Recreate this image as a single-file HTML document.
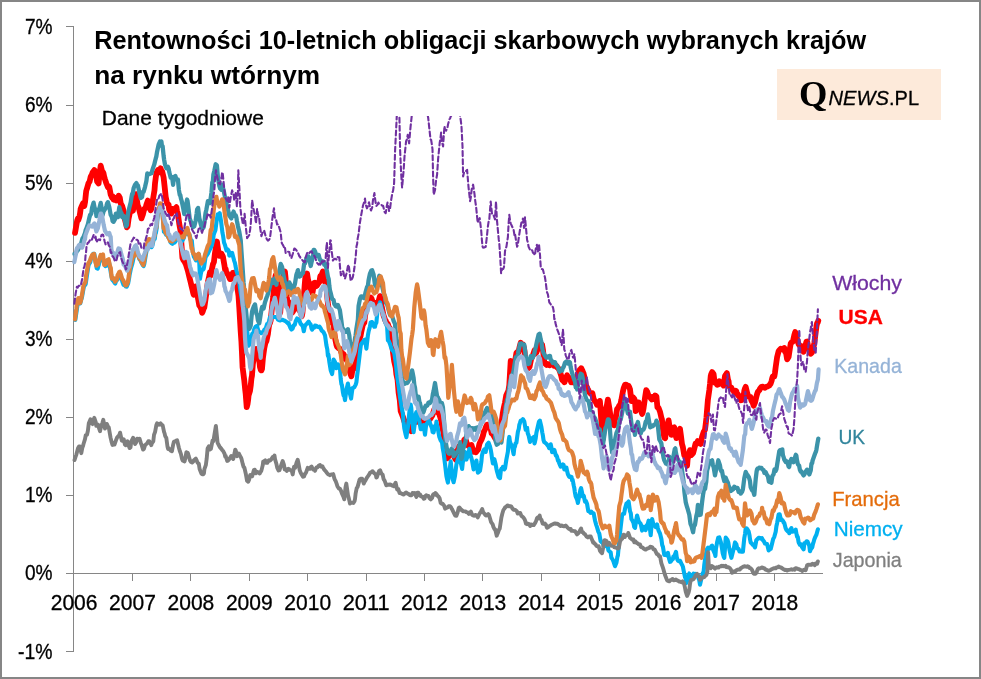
<!DOCTYPE html>
<html lang="pl"><head><meta charset="utf-8"><title>Rentowności 10-letnich obligacji skarbowych</title>
<style>
html,body{margin:0;padding:0;background:#fff;}
body{width:981px;height:679px;overflow:hidden;}
svg{display:block;font-family:"Liberation Sans",sans-serif;}
.ax{stroke:#868686;stroke-width:1;fill:none;shape-rendering:crispEdges;}
.lbl{font-size:21.6px;fill:#000;stroke:#000;stroke-width:0.3px;}
.ser{fill:none;stroke-linejoin:round;stroke-linecap:round;}
</style></head><body>
<svg width="981" height="679" viewBox="0 0 981 679">
<rect x="0" y="0" width="981" height="679" fill="#fff"/>
<rect x="1" y="1" width="979" height="677" fill="none" stroke="#868686" stroke-width="2"/>
<defs><clipPath id="plot"><rect x="60" y="116" width="800" height="560"/></clipPath></defs>
<path class="ax" d="M73.5 26V651.5 M66 651.5H74 M66 573.5H74 M66 495.5H74 M66 417.5H74 M66 339.5H74 M66 261.5H74 M66 183.5H74 M66 105.5H74 M66 26.5H74 M66 573.5H822.5 M132.5 573V581 M190.5 573V581 M249.5 573V581 M307.5 573V581 M366.5 573V581 M424.5 573V581 M482.5 573V581 M541.5 573V581 M599.5 573V581 M658.5 573V581 M716.5 573V581 M774.5 573V581"/>
<text class="lbl" x="18.1" y="658.5" textLength="34.5" lengthAdjust="spacingAndGlyphs">-1%</text>
<text class="lbl" x="25.0" y="580.4" textLength="27.6" lengthAdjust="spacingAndGlyphs">0%</text>
<text class="lbl" x="25.0" y="502.3" textLength="27.6" lengthAdjust="spacingAndGlyphs">1%</text>
<text class="lbl" x="25.0" y="424.2" textLength="27.6" lengthAdjust="spacingAndGlyphs">2%</text>
<text class="lbl" x="25.0" y="346.2" textLength="27.6" lengthAdjust="spacingAndGlyphs">3%</text>
<text class="lbl" x="25.0" y="268.1" textLength="27.6" lengthAdjust="spacingAndGlyphs">4%</text>
<text class="lbl" x="25.0" y="190.0" textLength="27.6" lengthAdjust="spacingAndGlyphs">5%</text>
<text class="lbl" x="25.0" y="111.9" textLength="27.6" lengthAdjust="spacingAndGlyphs">6%</text>
<text class="lbl" x="25.0" y="33.8" textLength="27.6" lengthAdjust="spacingAndGlyphs">7%</text>
<text class="lbl" x="74.1" y="609.5" text-anchor="middle" textLength="46.8" lengthAdjust="spacingAndGlyphs">2006</text>
<text class="lbl" x="132.5" y="609.5" text-anchor="middle" textLength="46.8" lengthAdjust="spacingAndGlyphs">2007</text>
<text class="lbl" x="190.9" y="609.5" text-anchor="middle" textLength="46.8" lengthAdjust="spacingAndGlyphs">2008</text>
<text class="lbl" x="249.3" y="609.5" text-anchor="middle" textLength="46.8" lengthAdjust="spacingAndGlyphs">2009</text>
<text class="lbl" x="307.7" y="609.5" text-anchor="middle" textLength="46.8" lengthAdjust="spacingAndGlyphs">2010</text>
<text class="lbl" x="366.1" y="609.5" text-anchor="middle" textLength="46.8" lengthAdjust="spacingAndGlyphs">2011</text>
<text class="lbl" x="424.5" y="609.5" text-anchor="middle" textLength="46.8" lengthAdjust="spacingAndGlyphs">2012</text>
<text class="lbl" x="482.9" y="609.5" text-anchor="middle" textLength="46.8" lengthAdjust="spacingAndGlyphs">2013</text>
<text class="lbl" x="541.3" y="609.5" text-anchor="middle" textLength="46.8" lengthAdjust="spacingAndGlyphs">2014</text>
<text class="lbl" x="599.7" y="609.5" text-anchor="middle" textLength="46.8" lengthAdjust="spacingAndGlyphs">2015</text>
<text class="lbl" x="658.1" y="609.5" text-anchor="middle" textLength="46.8" lengthAdjust="spacingAndGlyphs">2016</text>
<text class="lbl" x="716.5" y="609.5" text-anchor="middle" textLength="46.8" lengthAdjust="spacingAndGlyphs">2017</text>
<text class="lbl" x="774.9" y="609.5" text-anchor="middle" textLength="46.8" lengthAdjust="spacingAndGlyphs">2018</text>
<g clip-path="url(#plot)">
<path class="ser" d="M75.0 232.9 L76.4 225.1 L77.2 220.4 L77.9 218.5 L78.4 219.9 L79.5 216.4 L80.0 213.8 L80.6 209.1 L81.4 206.9 L83.1 203.2 L84.3 206.0 L85.1 201.8 L85.7 195.8 L86.2 191.0 L87.1 188.1 L88.6 182.9 L89.6 181.6 L90.7 176.7 L91.8 174.8 L92.6 172.4 L94.3 170.1 L95.2 171.5 L95.7 174.4 L96.3 176.8 L97.1 181.4 L98.6 183.4 L99.6 173.3 L100.7 165.7 L102.1 171.2 L103.0 172.2 L103.6 173.7 L104.1 176.3 L105.0 179.4 L106.4 183.5 L107.9 187.2 L108.6 186.3 L109.3 187.0 L110.7 194.6 L112.1 197.7 L113.1 196.7 L113.6 199.7 L114.2 199.8 L115.0 197.7 L116.4 200.4 L117.9 198.0 L118.7 195.8 L119.3 196.8 L119.8 197.7 L120.7 203.3 L122.1 205.8 L123.6 211.0 L124.3 214.4 L125.0 219.9 L126.9 227.4 L127.6 226.2 L128.6 218.7 L130.0 212.2 L131.4 208.7 L132.1 209.7 L132.9 210.6 L134.3 203.1 L135.5 195.8 L136.0 194.1 L136.6 199.6 L137.1 201.3 L137.7 205.4 L138.6 207.2 L140.0 212.9 L141.4 218.4 L142.2 216.2 L142.9 214.4 L144.3 208.9 L145.6 208.0 L146.4 204.7 L147.9 200.6 L149.3 205.3 L150.0 208.2 L150.7 210.3 L151.2 208.9 L152.1 204.9 L153.6 195.6 L154.5 190.3 L155.0 183.5 L155.6 178.9 L156.4 172.9 L157.9 170.1 L159.3 172.4 L160.1 172.1 L160.7 168.3 L161.2 170.7 L162.1 171.2 L163.6 177.4 L164.6 186.4 L165.7 196.9 L167.1 203.5 L168.0 204.3 L168.6 204.6 L169.1 209.5 L170.0 211.3 L171.4 213.5 L172.4 208.9 L172.9 211.1 L173.6 210.4 L175.0 209.6 L175.8 207.8 L176.4 207.2 L176.9 210.5 L177.9 214.0 L179.3 224.1 L180.7 231.6 L181.4 243.6 L182.4 257.9 L183.6 260.4 L184.6 261.8 L185.9 264.4 L187.0 268.0 L187.9 270.9 L189.2 276.4 L190.7 282.4 L191.5 285.9 L192.6 290.4 L193.1 292.7 L193.7 294.7 L194.8 290.4 L195.7 286.4 L197.1 295.0 L197.9 297.8 L199.3 305.5 L200.0 306.1 L201.6 309.7 L202.1 312.8 L202.7 311.7 L203.8 308.2 L204.3 307.6 L204.9 303.6 L206.4 293.2 L207.2 286.6 L207.9 281.9 L209.4 275.4 L209.9 272.4 L210.7 275.4 L211.6 270.6 L212.9 264.3 L213.9 262.1 L215.0 252.9 L216.1 246.1 L216.9 241.5 L218.3 250.9 L219.7 255.9 L220.6 255.3 L221.4 253.6 L222.9 256.6 L224.3 264.4 L225.1 269.9 L225.7 269.1 L226.2 272.3 L227.1 273.3 L228.6 275.8 L230.0 279.1 L230.7 279.2 L231.4 276.6 L232.9 272.9 L233.6 272.7 L235.0 277.4 L236.4 281.9 L237.4 288.7 L237.9 291.6 L238.5 295.8 L239.3 307.9 L240.7 331.6 L241.4 341.4 L241.9 351.5 L242.6 367.5 L244.3 380.7 L245.2 389.8 L245.7 394.0 L246.7 407.1 L247.5 404.3 L248.1 400.1 L248.6 395.3 L250.0 390.8 L250.8 385.0 L251.4 378.7 L252.0 375.4 L252.9 363.6 L254.2 357.1 L255.0 352.0 L256.4 348.9 L257.6 352.0 L258.6 354.0 L260.0 367.2 L260.9 370.3 L261.4 370.4 L262.0 368.9 L262.9 358.2 L264.3 348.1 L265.4 343.0 L266.4 341.2 L267.9 334.1 L268.8 326.9 L269.3 324.3 L269.9 323.3 L270.7 320.4 L272.1 306.5 L273.2 296.9 L274.4 282.8 L275.6 275.4 L276.7 276.8 L277.9 289.6 L279.1 302.7 L280.2 312.8 L281.4 296.4 L282.6 284.7 L283.7 274.9 L284.4 273.1 L284.9 271.5 L285.6 278.4 L286.1 291.0 L286.7 296.4 L287.8 303.1 L288.9 302.4 L289.6 303.9 L291.3 310.1 L292.3 312.5 L293.1 311.3 L294.8 306.1 L295.6 304.1 L296.6 300.6 L298.3 307.4 L299.0 310.0 L300.1 311.0 L301.2 313.1 L301.8 316.3 L302.4 313.3 L303.6 299.2 L304.6 286.1 L305.3 277.8 L307.1 273.6 L308.0 279.4 L308.9 283.0 L310.6 290.1 L311.3 289.6 L312.4 293.2 L313.6 286.3 L314.1 282.9 L314.7 282.7 L315.9 286.2 L316.9 285.6 L317.6 284.3 L319.4 281.9 L320.3 276.2 L321.1 276.3 L322.9 271.4 L323.6 278.2 L324.6 280.9 L325.9 284.3 L326.4 286.0 L327.0 294.6 L328.1 305.2 L329.2 311.6 L329.9 315.0 L330.4 317.8 L331.6 322.5 L332.6 320.5 L333.4 319.6 L334.3 332.3 L334.8 336.8 L336.4 344.7 L337.1 346.7 L338.2 347.9 L339.3 348.7 L340.0 348.8 L341.6 352.9 L342.7 354.9 L343.6 354.1 L344.9 358.7 L345.7 357.0 L347.2 360.7 L347.9 363.0 L349.4 369.7 L350.0 372.0 L350.5 374.1 L351.4 376.3 L352.8 367.8 L353.6 368.9 L355.0 365.4 L355.7 363.3 L357.2 352.5 L358.6 341.5 L359.5 339.2 L360.6 335.8 L361.4 331.3 L362.8 324.8 L364.3 322.6 L365.1 315.6 L366.2 310.0 L367.3 304.6 L368.6 301.8 L369.6 298.1 L370.7 297.5 L371.4 298.2 L372.9 302.7 L374.3 302.7 L375.2 303.0 L376.4 304.9 L377.4 304.1 L378.5 301.2 L380.0 296.1 L380.8 298.8 L381.4 305.5 L381.9 307.2 L383.0 312.8 L383.6 315.7 L384.1 316.9 L385.2 320.1 L385.7 320.7 L386.4 322.4 L387.9 324.2 L388.6 326.5 L390.0 328.6 L390.8 335.5 L392.0 343.1 L392.9 351.5 L394.2 361.3 L395.7 367.9 L396.4 374.4 L397.6 380.0 L398.6 392.5 L399.8 400.3 L400.7 411.2 L402.0 414.5 L403.2 417.6 L404.3 421.4 L405.4 421.1 L406.5 423.7 L407.1 425.2 L407.6 426.6 L408.8 430.4 L410.0 430.0 L411.0 431.1 L412.1 427.3 L413.2 424.3 L414.3 421.8 L415.5 421.6 L416.6 421.9 L417.7 421.1 L418.6 419.5 L420.0 421.5 L421.1 420.9 L422.2 420.1 L423.6 423.0 L424.4 422.5 L425.6 421.4 L426.7 419.9 L427.8 419.5 L428.6 419.7 L430.0 419.0 L431.2 417.3 L432.3 415.5 L433.4 412.2 L434.3 409.3 L435.6 410.2 L436.8 410.7 L437.9 412.6 L439.0 413.3 L440.1 416.7 L441.4 421.2 L442.4 428.3 L443.6 433.0 L444.6 444.6 L445.4 449.2 L447.1 458.4 L448.0 457.4 L449.1 455.7 L450.2 453.1 L451.4 451.6 L452.4 450.8 L453.6 454.4 L454.7 457.9 L455.7 459.6 L456.9 455.6 L458.0 449.2 L458.6 447.2 L459.2 446.0 L460.3 445.8 L461.4 445.3 L462.5 444.4 L463.6 442.8 L464.3 439.7 L464.8 439.3 L465.9 440.2 L467.1 444.6 L468.1 445.5 L469.2 446.2 L470.4 445.3 L471.4 444.9 L472.6 448.9 L473.7 451.7 L474.3 450.8 L474.8 451.7 L476.0 452.3 L477.1 450.5 L478.2 449.5 L479.3 444.3 L480.0 442.5 L481.6 439.4 L482.9 435.8 L483.8 431.8 L485.0 429.5 L486.0 426.8 L487.1 424.6 L488.3 424.9 L489.4 425.7 L490.0 427.3 L490.5 428.0 L491.6 433.3 L492.9 434.4 L493.9 436.2 L495.0 438.1 L496.4 440.0 L497.2 441.4 L498.4 440.0 L499.5 438.7 L500.0 436.3 L500.6 431.4 L501.7 421.5 L502.9 412.5 L504.0 406.8 L505.0 402.6 L506.2 395.5 L507.1 393.6 L508.4 390.8 L509.3 385.1 L510.7 360.9 L512.1 361.7 L512.9 367.0 L513.6 367.9 L515.0 361.4 L516.4 353.0 L517.4 351.9 L517.9 351.6 L518.5 352.4 L519.6 346.9 L520.7 342.8 L521.9 344.2 L522.9 344.3 L524.1 348.4 L524.6 352.0 L525.2 359.5 L526.0 363.6 L527.9 368.5 L528.6 368.2 L529.6 366.7 L531.0 359.6 L532.0 357.1 L532.9 355.3 L534.6 350.3 L535.3 353.6 L536.4 352.5 L537.6 349.5 L538.3 347.9 L540.0 344.2 L540.9 345.7 L542.1 344.8 L542.9 349.4 L544.3 362.5 L545.4 363.8 L546.4 364.9 L547.6 364.1 L548.6 365.0 L549.9 365.3 L551.4 364.1 L552.1 362.6 L553.2 363.2 L554.3 365.8 L555.5 365.2 L556.6 366.0 L557.1 367.4 L557.7 367.8 L558.8 368.8 L560.0 371.9 L561.1 375.4 L562.2 380.1 L562.9 380.3 L564.4 382.3 L565.0 380.8 L565.6 379.0 L567.1 375.3 L567.8 377.1 L568.9 377.5 L570.0 378.3 L571.2 382.3 L572.1 381.5 L573.4 382.5 L574.3 382.4 L575.6 382.1 L576.4 379.5 L577.9 373.7 L578.6 371.9 L580.1 369.3 L580.7 368.9 L581.2 368.2 L582.4 370.5 L582.9 371.9 L583.5 373.2 L585.0 379.4 L585.7 384.8 L587.1 387.6 L588.0 389.6 L589.3 392.3 L590.2 393.2 L591.4 394.1 L592.4 393.3 L593.6 398.7 L594.7 401.1 L595.7 401.6 L596.9 404.7 L597.9 404.1 L599.2 403.5 L599.9 400.9 L601.4 421.7 L602.9 439.0 L603.6 429.2 L604.3 421.9 L604.8 417.2 L605.7 409.3 L607.0 404.8 L607.9 399.6 L609.3 407.7 L610.7 417.6 L611.5 421.9 L612.1 423.9 L612.6 422.8 L613.7 422.6 L614.3 425.3 L614.8 419.7 L615.7 418.1 L617.1 409.0 L618.2 407.9 L619.3 405.5 L620.4 404.4 L621.4 399.7 L622.9 391.5 L623.8 387.8 L625.0 384.8 L626.0 384.6 L627.2 385.6 L628.6 385.9 L629.4 387.6 L630.0 389.3 L630.5 393.3 L631.6 401.1 L632.1 398.2 L632.8 397.1 L634.3 398.9 L635.0 401.2 L635.7 411.0 L637.1 402.4 L638.6 402.3 L639.5 406.9 L640.0 406.1 L640.6 409.5 L642.1 413.9 L642.8 412.3 L643.6 407.9 L645.0 397.9 L646.2 390.1 L647.1 391.5 L648.6 395.9 L649.6 396.2 L650.7 398.1 L651.8 399.5 L652.9 397.0 L654.3 399.0 L655.2 395.5 L656.4 396.3 L657.4 407.2 L657.9 407.7 L658.5 407.8 L660.0 411.7 L660.8 415.1 L661.4 417.9 L661.9 419.1 L662.9 428.8 L664.3 437.6 L665.2 438.1 L665.7 433.6 L666.4 427.3 L667.1 425.7 L668.6 420.4 L669.3 425.2 L670.8 428.8 L671.4 434.8 L672.0 432.9 L673.1 428.6 L673.6 427.6 L674.2 427.3 L675.0 431.5 L676.4 438.1 L677.9 435.3 L678.7 430.8 L680.0 428.9 L680.9 435.5 L681.4 439.3 L682.0 444.2 L682.9 447.2 L684.3 455.4 L685.0 455.6 L686.5 461.0 L687.1 465.9 L687.6 459.2 L688.6 455.8 L690.0 450.1 L691.0 455.2 L692.1 454.3 L693.2 452.9 L694.3 448.6 L695.5 443.8 L696.4 444.1 L697.7 441.1 L698.6 441.7 L700.0 442.9 L700.7 443.9 L702.1 436.6 L703.6 432.1 L704.4 430.8 L705.0 429.6 L705.6 425.1 L706.4 418.0 L707.9 399.8 L709.3 390.2 L710.0 384.0 L710.7 376.2 L711.2 374.1 L712.1 372.1 L713.6 374.0 L714.5 381.3 L715.0 382.6 L715.6 382.3 L717.1 384.8 L717.9 384.7 L719.3 381.3 L720.1 383.4 L721.4 383.9 L722.4 384.1 L723.6 385.5 L725.0 375.8 L725.7 375.0 L726.9 373.1 L728.0 379.8 L728.6 381.1 L729.1 386.4 L730.0 387.0 L731.3 387.6 L732.1 389.5 L733.6 390.9 L734.3 392.6 L735.8 390.7 L736.4 391.4 L736.9 394.3 L738.0 394.3 L738.6 395.8 L739.2 396.1 L740.7 400.3 L741.4 400.2 L742.9 397.7 L743.6 395.9 L744.3 390.8 L744.8 388.9 L745.7 386.8 L747.1 392.7 L748.1 395.6 L749.3 397.0 L750.4 396.9 L751.4 400.5 L752.6 402.5 L753.6 405.7 L755.0 402.6 L756.4 396.7 L757.1 394.0 L757.9 391.7 L759.3 390.3 L760.0 388.6 L761.6 386.8 L762.9 386.6 L763.8 387.4 L765.0 387.8 L766.0 387.0 L767.2 386.6 L767.9 386.3 L769.4 385.5 L770.0 384.1 L770.5 384.1 L771.6 380.9 L772.1 378.6 L772.8 376.4 L774.3 376.5 L775.0 372.4 L775.7 367.0 L777.1 357.1 L778.6 351.2 L779.5 350.0 L780.7 348.8 L781.7 349.2 L782.9 349.3 L784.3 348.0 L785.1 351.8 L785.7 352.4 L786.2 353.8 L787.1 359.3 L788.6 357.0 L790.0 347.9 L790.7 343.6 L791.4 342.5 L792.9 341.5 L794.3 335.0 L795.2 332.0 L795.7 333.7 L796.3 335.1 L797.1 339.5 L798.6 344.2 L800.0 345.9 L800.8 345.8 L801.4 348.6 L801.9 347.5 L803.0 348.9 L803.6 351.8 L804.1 348.8 L805.2 345.1 L805.7 344.4 L806.4 341.6 L807.1 341.5 L808.6 348.2 L810.0 351.5 L810.8 353.8 L811.4 353.0 L812.0 352.6 L812.9 350.1 L814.3 343.0 L815.7 332.3 L816.4 326.8 L817.1 323.1 L817.6 323.0 L818.3 320.7" stroke="#ff0000" stroke-width="5.8"/>
<path class="ser" d="M75.3 319.9 L76.7 310.4 L77.5 305.0 L78.2 300.2 L78.7 299.5 L79.8 302.1 L80.3 303.4 L80.9 300.8 L82.0 297.1 L83.1 290.9 L83.9 286.7 L85.7 284.0 L86.5 278.4 L87.2 273.6 L88.6 264.9 L90.3 262.1 L91.0 258.5 L92.4 256.5 L93.2 253.8 L94.3 253.8 L95.7 262.2 L96.7 268.1 L97.7 268.6 L98.2 266.8 L98.8 264.8 L99.6 260.7 L101.0 255.9 L102.4 256.8 L103.3 260.9 L103.9 262.7 L104.4 263.6 L105.3 266.2 L106.7 265.6 L107.2 264.3 L107.8 261.3 L108.9 261.6 L110.3 269.4 L111.1 274.4 L111.7 277.5 L112.3 279.8 L113.2 280.7 L114.5 282.7 L115.3 283.5 L116.7 278.8 L117.4 279.8 L117.9 278.2 L119.0 277.3 L119.6 274.8 L120.1 276.8 L121.0 276.4 L122.4 281.8 L123.5 284.9 L124.6 284.7 L125.7 286.5 L126.7 286.6 L128.2 283.1 L129.1 278.1 L129.6 274.9 L130.2 272.1 L131.0 268.1 L132.4 263.4 L133.9 256.4 L134.7 253.0 L135.3 251.3 L135.8 252.9 L136.7 252.2 L138.2 254.9 L139.1 258.1 L139.6 259.4 L140.3 257.8 L141.0 261.7 L142.9 265.2 L143.6 266.1 L144.3 263.9 L145.7 255.6 L147.2 247.6 L148.2 242.7 L149.6 241.4 L150.3 245.0 L151.0 244.4 L151.5 247.3 L152.4 245.6 L153.9 238.5 L154.8 238.7 L155.3 234.2 L155.9 233.0 L156.7 228.3 L158.2 210.1 L159.3 207.8 L160.3 205.9 L161.5 212.5 L162.4 212.0 L163.9 231.8 L164.9 232.4 L166.0 234.7 L167.1 234.5 L168.2 237.1 L169.4 236.8 L170.3 242.0 L171.6 243.3 L172.4 243.8 L173.9 242.7 L174.6 242.5 L176.1 240.3 L176.7 239.4 L177.2 238.7 L178.3 238.7 L178.9 238.3 L179.5 239.4 L181.0 240.3 L181.7 241.8 L183.2 239.3 L183.9 237.7 L184.6 235.2 L185.1 234.1 L186.0 231.0 L187.7 229.9 L188.4 234.5 L189.6 235.0 L191.0 240.7 L191.8 240.5 L192.4 247.2 L192.9 252.2 L193.9 256.8 L195.1 258.8 L196.0 260.4 L197.4 255.6 L198.9 254.3 L200.0 278.8 L200.7 274.6 L201.4 271.4 L201.9 269.8 L203.0 269.6 L203.6 268.9 L204.1 267.0 L205.2 259.4 L205.7 256.3 L206.3 256.0 L207.9 253.7 L208.6 252.0 L210.0 249.2 L210.8 247.7 L212.1 244.3 L213.1 240.1 L213.6 235.3 L214.2 233.1 L215.4 230.2 L216.6 220.9 L217.7 214.4 L218.7 216.5 L219.7 213.2 L221.0 220.8 L222.4 232.5 L223.1 235.9 L224.0 242.5 L225.0 245.1 L226.5 250.5 L227.1 249.1 L227.6 249.4 L228.7 250.7 L229.3 255.6 L229.9 255.5 L230.7 254.4 L232.1 252.8 L233.6 258.6 L234.3 261.1 L235.0 263.1 L235.5 266.0 L236.4 270.3 L237.9 275.3 L238.8 277.5 L239.3 281.9 L239.9 287.3 L240.7 292.5 L242.2 301.5 L242.9 306.4 L244.4 315.6 L245.7 320.6 L246.7 326.6 L247.8 336.5 L248.6 345.7 L250.0 343.2 L251.4 337.2 L252.3 333.6 L253.4 332.8 L254.3 329.1 L255.6 326.7 L257.1 325.8 L257.9 329.6 L259.0 332.3 L260.0 332.1 L261.2 333.2 L262.3 332.5 L263.5 331.7 L264.3 329.7 L265.7 328.7 L267.1 324.2 L267.9 325.0 L269.1 320.8 L270.0 317.0 L271.3 317.6 L272.4 317.3 L273.5 317.0 L274.3 317.0 L275.8 317.1 L276.9 316.7 L277.9 319.7 L279.1 320.2 L280.3 320.4 L281.4 319.8 L282.9 319.9 L283.6 320.4 L284.7 320.5 L285.7 321.3 L287.0 322.4 L288.1 323.5 L288.6 323.0 L289.2 324.9 L290.3 327.6 L291.4 329.5 L292.6 328.6 L293.6 325.5 L294.8 324.7 L295.7 321.2 L297.1 318.5 L298.6 319.4 L299.3 320.2 L300.7 324.0 L301.5 324.5 L302.9 326.5 L303.8 331.3 L304.3 328.8 L304.9 325.9 L306.4 324.0 L307.1 323.4 L308.6 321.6 L309.4 323.0 L310.7 324.6 L311.6 328.7 L312.1 329.7 L312.7 327.0 L314.3 327.6 L315.0 325.6 L316.4 325.7 L317.2 326.7 L318.6 327.1 L319.5 326.7 L320.7 328.5 L321.7 330.6 L322.9 331.5 L323.9 332.8 L325.0 335.3 L326.4 345.3 L327.3 349.4 L327.9 355.9 L328.4 354.5 L329.3 361.6 L330.7 370.2 L332.1 374.1 L332.9 368.1 L333.6 359.5 L335.0 362.0 L336.4 368.2 L337.4 365.1 L337.9 364.3 L338.5 365.4 L339.9 367.6 L340.7 378.8 L341.4 384.1 L341.9 384.9 L343.0 392.6 L343.6 395.5 L344.1 395.1 L345.0 400.1 L346.4 390.0 L347.9 383.5 L348.6 387.5 L349.3 391.0 L351.1 398.6 L351.9 392.3 L352.6 387.9 L353.1 387.8 L354.3 387.2 L355.7 384.6 L356.4 382.2 L357.1 376.1 L358.6 363.8 L360.0 351.8 L360.9 344.8 L361.4 343.9 L362.0 343.0 L363.1 341.6 L363.6 341.4 L364.3 340.0 L365.0 339.7 L366.4 348.6 L367.9 335.3 L368.7 331.0 L369.3 328.9 L369.9 326.7 L370.7 322.5 L372.1 322.0 L372.9 323.7 L374.3 326.8 L375.0 326.8 L375.5 324.2 L376.4 322.5 L377.7 308.5 L378.6 306.2 L380.0 302.4 L381.4 307.6 L382.2 311.6 L382.9 313.6 L384.4 320.1 L385.0 321.5 L385.5 323.1 L387.1 326.7 L387.9 340.3 L388.9 341.3 L390.0 343.9 L391.1 347.5 L392.1 350.1 L393.4 351.2 L394.3 353.5 L395.7 362.4 L397.1 375.7 L397.9 381.5 L398.6 386.1 L400.0 396.9 L401.4 406.1 L402.3 411.0 L402.9 413.3 L403.5 421.2 L404.3 428.3 L405.7 434.7 L406.4 437.2 L407.9 427.1 L409.3 412.8 L410.2 405.7 L410.7 404.7 L411.3 408.1 L412.1 420.1 L413.6 432.3 L415.0 422.0 L415.8 413.6 L416.4 412.0 L416.9 412.1 L417.9 411.0 L419.3 420.8 L420.7 429.2 L421.4 429.1 L422.1 428.2 L423.6 425.1 L425.0 434.8 L425.9 427.0 L426.4 424.3 L427.0 423.2 L427.9 422.1 L429.3 420.8 L430.7 425.1 L431.5 427.0 L432.1 428.6 L432.6 431.9 L433.6 432.4 L435.0 425.8 L435.9 426.5 L436.4 421.6 L437.1 425.6 L437.9 428.9 L439.3 436.8 L440.7 440.4 L441.5 441.6 L442.1 442.7 L442.7 448.0 L443.6 452.8 L445.0 463.9 L446.4 476.1 L447.1 479.2 L447.9 482.6 L449.3 471.9 L450.7 461.4 L451.6 469.7 L452.1 471.8 L452.7 479.1 L453.6 482.2 L455.0 475.8 L456.4 464.5 L457.2 461.5 L457.9 459.1 L459.3 456.0 L460.7 462.5 L462.1 468.9 L462.8 462.6 L463.6 458.3 L465.0 451.9 L466.4 459.6 L467.3 457.0 L467.9 453.1 L468.4 454.6 L469.3 448.8 L470.7 455.5 L472.1 460.8 L472.9 465.4 L473.6 469.5 L475.0 466.1 L476.4 460.5 L477.4 468.7 L477.9 472.7 L478.5 472.2 L480.0 470.8 L480.7 466.1 L481.4 461.4 L481.9 455.8 L482.9 451.7 L484.3 449.4 L485.2 451.7 L485.7 451.9 L486.3 448.1 L487.1 444.3 L488.6 442.7 L490.0 446.5 L490.8 450.0 L491.4 453.6 L491.9 457.6 L492.9 463.5 L494.3 459.1 L495.7 464.6 L496.4 468.7 L497.1 471.7 L498.6 476.9 L500.0 478.2 L500.9 470.0 L501.4 468.8 L502.0 468.9 L502.9 467.0 L504.3 469.4 L505.0 468.4 L506.4 459.4 L507.9 451.6 L508.7 440.6 L509.3 436.9 L509.9 441.6 L510.7 443.6 L512.1 446.8 L513.6 454.2 L514.3 448.0 L515.0 446.4 L515.5 443.6 L516.4 442.8 L517.9 431.8 L518.8 428.7 L519.3 424.9 L519.9 423.2 L520.7 420.7 L522.2 420.1 L522.9 419.1 L524.3 421.6 L525.7 429.8 L527.1 427.8 L527.8 433.5 L528.6 435.4 L530.0 441.9 L531.4 438.7 L532.3 438.0 L533.6 437.0 L534.5 443.4 L535.0 441.6 L535.6 438.9 L536.4 432.7 L537.9 426.2 L539.0 421.6 L539.9 420.6 L541.4 427.0 L542.3 432.6 L542.9 435.6 L543.5 440.0 L544.3 442.2 L545.7 443.2 L546.4 443.8 L547.9 445.7 L548.6 446.6 L549.1 448.2 L550.2 446.5 L550.7 444.3 L551.3 447.0 L552.1 452.2 L553.5 451.1 L554.3 449.9 L555.8 455.4 L556.4 455.3 L556.9 456.3 L558.0 460.7 L558.6 460.5 L559.1 462.9 L560.7 466.7 L561.4 466.4 L562.9 464.5 L563.6 465.0 L564.3 469.5 L565.9 468.5 L566.4 467.6 L567.0 470.6 L567.9 474.3 L569.2 476.8 L570.0 476.5 L571.5 476.9 L572.1 480.5 L572.6 479.7 L573.7 485.4 L574.3 488.0 L574.8 491.8 L575.7 496.5 L577.1 499.6 L577.9 502.9 L579.3 495.3 L580.4 489.8 L581.1 488.1 L582.9 496.5 L583.8 496.0 L585.0 501.6 L586.0 501.2 L587.1 504.1 L588.3 511.2 L589.3 511.2 L590.5 512.9 L591.4 511.7 L592.7 513.3 L593.6 513.2 L595.0 520.4 L596.1 524.6 L597.1 527.4 L598.3 531.6 L599.3 533.6 L600.6 541.1 L601.4 542.0 L602.8 543.0 L603.6 545.2 L605.1 544.5 L605.7 544.5 L606.2 546.2 L607.3 546.6 L607.9 547.1 L608.4 550.4 L609.3 551.3 L610.7 552.4 L611.4 557.7 L612.9 560.0 L613.6 561.9 L615.0 566.2 L616.4 562.8 L617.4 556.8 L617.9 555.5 L618.5 548.8 L619.3 539.3 L620.7 526.9 L622.1 514.9 L623.0 513.7 L623.6 513.8 L624.1 513.8 L625.0 508.9 L626.4 503.7 L627.5 502.8 L628.6 501.5 L630.0 511.3 L630.8 513.3 L631.4 519.1 L631.9 519.6 L633.1 522.0 L633.6 523.3 L634.2 527.0 L635.0 527.9 L636.4 519.2 L637.1 515.5 L638.6 521.1 L639.8 522.8 L640.7 523.9 L642.1 530.6 L643.1 526.8 L644.3 526.9 L645.7 530.1 L646.5 527.0 L647.1 524.7 L647.6 524.8 L648.6 520.7 L649.9 528.6 L650.7 535.3 L652.1 519.1 L653.6 525.2 L654.3 525.1 L655.7 527.1 L656.6 526.7 L657.1 524.4 L657.7 527.5 L658.6 530.7 L660.0 533.5 L661.4 539.1 L662.2 545.1 L662.9 546.6 L664.3 554.9 L665.5 554.8 L666.4 555.4 L667.9 552.8 L669.3 559.5 L670.0 561.9 L670.7 561.6 L672.3 559.4 L672.9 559.0 L673.4 556.4 L674.3 556.2 L676.0 551.8 L676.7 557.0 L677.4 559.6 L677.9 560.6 L679.3 561.3 L680.1 560.8 L681.4 563.8 L682.3 565.3 L682.9 566.7 L683.6 570.4 L685.0 577.2 L685.7 578.7 L686.4 583.1 L687.9 576.6 L689.3 573.5 L690.2 580.9 L690.7 578.4 L691.3 576.3 L692.1 576.2 L693.5 573.6 L694.3 574.8 L695.8 573.8 L696.4 574.5 L696.9 575.5 L698.0 575.4 L698.6 578.5 L699.1 579.5 L700.0 584.7 L701.4 578.6 L702.9 573.1 L703.6 571.9 L704.3 564.7 L705.7 554.9 L707.1 548.9 L708.1 547.6 L708.6 548.4 L709.2 548.8 L710.7 547.4 L711.5 546.1 L712.1 545.6 L712.6 548.4 L713.6 550.9 L714.8 553.6 L715.4 555.9 L715.9 549.0 L717.1 542.3 L718.2 537.8 L719.3 537.4 L720.7 541.6 L721.5 545.6 L722.1 549.2 L722.7 553.1 L723.8 556.8 L724.3 557.9 L724.9 549.4 L725.7 537.6 L727.4 539.7 L728.3 542.3 L729.3 549.0 L730.5 554.2 L731.4 557.8 L732.7 552.5 L733.6 549.1 L735.0 542.4 L736.4 544.5 L737.2 548.4 L738.6 549.0 L739.5 551.5 L740.7 551.3 L741.7 551.8 L742.9 551.7 L744.3 538.0 L745.1 533.6 L745.7 528.3 L746.2 528.2 L747.1 528.9 L748.6 531.3 L749.5 535.2 L750.0 539.2 L750.7 542.6 L751.4 543.0 L752.9 545.0 L753.6 544.9 L755.0 547.4 L756.4 540.0 L757.4 539.2 L758.6 537.9 L759.6 537.8 L760.7 538.7 L761.9 538.1 L762.9 540.2 L764.1 541.6 L765.0 543.5 L766.3 543.9 L767.1 544.1 L768.6 550.4 L769.3 549.8 L770.7 548.9 L772.1 543.4 L773.1 539.2 L774.3 536.8 L775.7 531.8 L776.4 526.3 L777.1 523.2 L778.6 514.6 L779.7 514.3 L780.9 520.0 L781.4 519.3 L782.0 519.7 L783.1 521.0 L783.6 522.5 L784.3 523.0 L785.7 528.4 L786.5 530.1 L787.9 531.4 L788.7 530.7 L789.3 533.2 L789.9 530.7 L791.4 528.1 L792.1 531.7 L793.6 531.5 L794.3 531.1 L795.7 529.6 L796.6 534.5 L797.1 536.8 L797.7 536.7 L798.6 542.2 L799.9 544.7 L800.7 544.1 L802.1 547.2 L803.6 549.4 L804.4 543.2 L805.7 542.8 L806.7 541.2 L807.4 541.4 L809.3 545.7 L810.0 551.2 L810.7 549.4 L812.3 547.2 L812.9 544.2 L813.4 542.7 L814.5 538.8 L815.0 537.7 L815.6 536.2 L816.4 534.8 L817.9 529.3" stroke="#00b0f0" stroke-width="4.1"/>
<path class="ser" d="M74.5 460.1 L75.6 456.7 L76.3 454.8 L78.0 448.2 L79.0 446.4 L80.0 446.5 L81.3 453.2 L82.3 447.8 L83.0 446.1 L83.5 444.0 L85.0 439.1 L85.7 435.3 L87.0 434.7 L87.9 430.8 L88.8 423.3 L90.5 419.2 L91.3 422.7 L92.5 424.1 L93.5 420.9 L94.3 417.8 L95.8 422.3 L96.3 425.9 L96.9 424.3 L98.0 424.7 L99.1 428.4 L100.0 431.2 L101.4 425.0 L102.0 424.0 L102.5 422.5 L103.3 419.8 L105.0 428.6 L105.9 426.3 L106.8 423.9 L108.1 426.8 L108.8 427.5 L110.5 437.4 L111.5 441.6 L112.5 445.0 L113.7 444.4 L114.5 444.5 L116.3 439.4 L117.1 437.5 L118.0 436.4 L119.3 435.2 L120.1 432.7 L121.8 440.7 L122.7 441.0 L123.8 439.4 L124.9 444.5 L125.6 445.3 L127.1 442.7 L127.6 441.3 L128.3 444.6 L129.6 448.1 L130.5 447.5 L131.3 441.6 L133.1 437.7 L133.9 441.3 L135.1 444.0 L136.1 442.4 L137.1 438.8 L138.3 438.9 L138.8 439.2 L139.5 438.7 L140.8 442.9 L141.7 445.1 L143.1 449.6 L143.9 448.8 L145.1 445.1 L146.2 444.1 L147.1 443.5 L148.4 441.2 L149.1 441.1 L150.7 443.8 L151.3 445.1 L151.8 443.4 L153.3 441.4 L154.0 434.9 L155.1 431.8 L156.3 425.3 L157.1 423.3 L158.8 424.7 L159.6 424.3 L160.6 423.3 L161.9 425.2 L162.6 425.1 L164.1 432.1 L164.6 433.4 L165.2 436.2 L166.3 437.8 L167.5 446.8 L168.1 448.9 L168.6 448.2 L170.1 449.9 L170.8 450.8 L171.9 451.3 L173.1 444.9 L173.9 441.7 L175.6 440.9 L176.4 440.5 L177.1 440.2 L178.9 447.7 L179.8 451.0 L180.9 453.9 L182.0 458.7 L182.6 460.3 L183.1 460.8 L184.6 461.4 L185.4 457.9 L186.4 452.2 L187.6 452.7 L188.1 453.7 L188.7 456.2 L190.1 460.6 L191.0 462.0 L192.1 462.5 L193.2 461.5 L193.9 460.2 L195.9 458.6 L196.6 460.4 L197.6 462.7 L198.8 463.7 L199.6 469.0 L201.4 473.6 L202.2 474.3 L203.3 474.2 L203.9 473.5 L204.4 469.2 L205.9 464.8 L206.7 458.6 L207.6 448.5 L208.9 446.2 L209.4 446.7 L210.0 449.5 L210.9 448.9 L212.6 440.4 L213.4 441.0 L214.4 434.9 L215.9 425.9 L216.7 434.1 L217.6 442.9 L219.4 446.2 L220.1 447.4 L221.4 448.9 L222.3 450.2 L223.2 451.1 L224.6 453.8 L225.2 456.5 L225.7 456.0 L227.2 460.9 L227.9 460.6 L229.2 459.1 L230.2 457.6 L231.2 456.0 L232.4 456.9 L233.2 459.1 L234.7 452.5 L235.2 449.7 L235.8 450.6 L237.2 456.2 L238.0 454.7 L238.9 453.6 L240.3 456.3 L240.9 457.4 L241.4 458.5 L242.7 463.9 L243.6 466.9 L244.4 467.7 L245.9 474.3 L246.4 477.1 L247.0 480.8 L248.2 481.8 L249.2 479.4 L250.2 475.0 L251.5 475.5 L252.2 476.3 L253.9 469.9 L254.8 469.8 L255.9 473.3 L257.1 471.9 L257.7 472.4 L258.2 472.2 L259.7 473.5 L260.4 472.2 L261.4 470.6 L262.7 465.4 L263.2 461.5 L263.8 461.3 L265.2 460.4 L266.0 462.9 L267.2 462.9 L268.3 461.0 L268.9 460.2 L269.4 460.8 L270.5 460.2 L271.0 459.7 L271.6 458.7 L272.7 457.0 L273.9 456.9 L274.5 455.6 L275.0 459.1 L276.5 464.3 L277.2 467.6 L278.5 470.5 L279.5 470.1 L280.2 468.0 L281.7 463.6 L282.7 461.0 L283.9 464.7 L284.7 469.4 L286.2 470.0 L286.7 471.0 L287.3 469.1 L288.4 468.8 L289.0 469.0 L289.5 469.9 L290.7 470.1 L291.8 471.1 L292.7 474.4 L294.0 466.7 L294.5 467.8 L295.1 467.9 L296.5 462.7 L297.7 459.7 L298.5 463.4 L299.7 470.2 L300.7 472.8 L301.5 474.2 L303.0 476.8 L304.0 476.4 L305.2 473.6 L306.0 472.7 L307.7 467.8 L308.6 468.6 L309.7 468.9 L310.8 467.0 L311.5 466.5 L313.2 469.6 L314.2 469.7 L315.0 470.7 L316.4 467.5 L317.5 467.3 L318.7 465.7 L320.0 465.0 L320.9 466.6 L322.0 466.9 L322.5 466.4 L323.1 467.6 L324.3 469.8 L325.0 470.4 L326.5 472.3 L327.5 473.7 L328.7 474.6 L330.0 475.2 L331.0 474.5 L332.5 474.5 L333.2 474.1 L334.3 478.3 L335.0 480.1 L335.5 480.7 L336.6 483.7 L337.5 486.5 L338.8 488.4 L340.0 488.9 L341.1 491.0 L342.0 493.6 L343.3 496.4 L344.3 499.3 L345.5 487.5 L346.3 483.6 L348.0 495.3 L348.9 498.6 L350.0 503.5 L351.1 502.7 L352.5 502.7 L353.4 503.0 L354.5 501.3 L355.0 499.1 L355.6 493.7 L356.7 488.2 L357.5 487.1 L359.0 481.9 L359.5 479.8 L360.1 479.1 L361.2 478.7 L362.1 478.7 L363.8 483.6 L364.6 481.7 L365.6 480.2 L366.8 477.9 L368.1 476.0 L369.1 474.6 L370.1 472.8 L371.3 472.1 L372.6 471.2 L373.5 472.5 L374.6 473.5 L375.8 474.5 L376.3 477.5 L376.9 477.2 L378.1 473.6 L379.1 471.0 L380.1 470.2 L381.4 473.7 L382.6 474.5 L383.6 479.1 L384.6 480.6 L386.3 485.3 L387.0 484.8 L388.1 484.6 L388.8 484.9 L390.3 484.5 L391.3 485.0 L392.6 485.8 L393.8 486.3 L394.8 484.2 L395.6 482.8 L397.1 489.4 L397.6 489.1 L398.2 488.9 L399.6 493.0 L400.4 492.9 L401.5 493.6 L402.1 493.8 L402.7 494.3 L403.8 494.5 L404.6 493.6 L406.0 492.4 L407.1 493.1 L407.6 493.7 L408.3 493.7 L409.4 494.7 L410.1 495.3 L411.6 495.2 L412.6 492.9 L413.9 493.6 L414.6 493.0 L416.4 497.0 L417.2 492.7 L418.4 492.7 L419.5 495.1 L420.1 494.5 L420.6 496.2 L421.7 496.5 L422.6 496.9 L423.9 498.8 L424.6 498.5 L425.1 496.4 L426.2 495.2 L427.1 495.8 L428.4 495.9 L429.6 498.4 L430.7 499.4 L432.1 497.9 L432.9 494.9 L433.9 493.9 L435.1 494.7 L435.6 493.1 L436.3 493.8 L437.6 495.9 L438.5 496.4 L439.6 498.3 L440.1 500.4 L440.7 503.0 L441.9 503.8 L442.6 503.7 L444.1 505.7 L445.1 508.7 L446.3 507.9 L447.6 507.4 L448.6 506.3 L450.1 506.2 L450.8 507.0 L451.9 509.1 L452.6 510.3 L453.1 511.3 L454.2 513.6 L455.1 515.5 L456.4 515.8 L457.6 512.6 L458.7 507.9 L459.4 507.5 L460.9 509.5 L461.4 510.0 L462.0 510.2 L463.1 511.2 L463.9 511.3 L465.4 511.4 L466.4 512.1 L467.6 512.4 L468.9 513.9 L469.9 513.0 L470.9 511.6 L472.1 514.7 L472.7 515.2 L473.2 515.6 L474.3 515.7 L475.2 514.9 L476.6 515.3 L477.7 517.5 L478.8 515.1 L480.2 512.6 L481.1 511.2 L482.2 509.0 L483.3 512.6 L483.9 513.1 L484.4 513.6 L485.5 515.3 L486.4 515.5 L488.2 514.1 L488.9 514.8 L490.2 519.0 L491.1 522.2 L492.7 524.4 L493.4 526.9 L494.5 529.2 L495.2 529.4 L496.7 535.7 L497.2 534.4 L497.9 533.0 L499.0 529.6 L499.7 528.8 L501.4 517.5 L502.3 513.7 L503.4 510.0 L504.6 508.3 L505.2 507.1 L505.7 507.2 L506.8 506.1 L507.7 505.4 L509.1 506.3 L510.2 506.1 L511.3 506.6 L512.7 508.9 L513.5 509.7 L514.7 509.8 L515.2 509.9 L515.8 510.2 L516.9 511.4 L517.7 513.6 L519.1 513.2 L520.2 512.9 L521.4 515.9 L522.7 516.8 L523.6 517.8 L524.7 519.6 L525.2 520.7 L525.9 523.5 L527.0 524.2 L527.7 523.7 L529.2 524.1 L530.2 526.0 L531.5 524.4 L532.7 525.0 L533.7 525.1 L535.2 522.9 L535.9 521.5 L537.1 517.9 L537.7 517.4 L538.2 518.5 L539.7 515.6 L540.4 518.7 L541.5 519.8 L542.7 523.6 L544.0 524.0 L544.9 523.5 L546.0 524.7 L546.5 526.6 L547.1 527.8 L548.3 527.1 L549.0 526.4 L550.5 525.5 L551.5 524.8 L552.7 524.3 L554.0 523.7 L555.0 523.4 L556.1 523.8 L557.2 523.6 L558.3 524.4 L559.5 525.3 L560.0 525.7 L560.6 526.0 L561.7 525.4 L562.9 526.1 L563.9 526.3 L565.1 525.9 L565.7 525.5 L566.2 525.9 L567.3 527.4 L568.6 528.6 L569.5 529.2 L570.7 529.0 L571.4 530.9 L572.9 530.9 L574.3 531.2 L575.1 531.2 L576.3 533.1 L577.1 534.4 L578.5 533.1 L579.3 531.8 L581.1 528.5 L581.9 532.0 L582.9 532.1 L584.1 533.8 L585.0 534.3 L586.3 536.3 L587.9 537.4 L588.6 536.9 L589.7 536.4 L590.7 536.5 L591.9 539.4 L593.1 542.5 L593.6 542.1 L594.2 543.2 L595.7 544.5 L596.4 545.8 L597.9 546.7 L598.7 546.3 L600.0 550.9 L600.9 552.1 L602.1 553.2 L603.1 547.8 L603.6 543.9 L604.3 540.3 L605.0 540.1 L606.5 540.9 L607.1 544.1 L607.6 544.9 L608.7 543.9 L609.3 542.9 L609.9 544.4 L611.4 545.8 L612.1 545.5 L613.6 546.3 L614.3 547.2 L615.7 547.7 L616.6 547.9 L617.9 548.5 L618.8 548.1 L620.0 541.6 L621.1 539.6 L622.1 538.7 L623.6 534.7 L624.4 537.1 L625.0 537.0 L625.5 535.5 L626.4 535.2 L627.8 534.9 L628.3 533.0 L628.9 534.6 L630.0 537.9 L631.1 538.6 L632.1 539.5 L633.4 539.5 L634.3 542.3 L635.6 541.5 L636.4 542.7 L637.9 543.5 L638.6 544.3 L640.1 544.5 L640.7 546.6 L641.2 547.1 L642.3 547.4 L642.9 547.7 L643.5 548.4 L645.0 549.6 L645.7 549.5 L647.1 548.6 L647.9 548.3 L649.3 547.9 L650.2 546.8 L651.4 546.9 L652.4 547.5 L653.6 549.4 L654.7 549.7 L655.7 551.7 L656.9 554.1 L657.9 554.2 L659.1 556.4 L660.0 556.2 L661.4 563.3 L662.9 567.7 L663.6 569.9 L665.0 575.0 L665.9 577.2 L667.1 580.4 L668.1 581.0 L669.3 581.4 L670.3 580.3 L671.4 579.7 L672.6 579.0 L673.6 580.4 L674.8 580.1 L675.7 579.5 L677.1 580.4 L677.9 580.6 L679.3 581.6 L680.0 581.6 L681.5 582.2 L682.1 582.4 L682.7 581.4 L683.8 582.8 L684.3 584.7 L684.9 587.4 L685.7 591.6 L687.1 596.0 L688.6 592.5 L689.4 589.0 L690.0 584.1 L690.5 581.4 L691.4 579.9 L692.7 579.6 L693.6 579.1 L695.0 576.7 L695.7 575.2 L697.1 573.9 L698.6 576.4 L699.5 576.6 L700.0 579.9 L700.6 579.5 L702.1 577.8 L702.8 577.3 L704.3 577.0 L705.1 576.0 L706.4 575.0 L707.4 571.5 L708.1 552.1 L708.9 566.9 L709.5 566.8 L710.7 568.2 L711.8 566.0 L712.9 566.6 L714.0 567.7 L715.0 568.6 L716.3 567.4 L717.1 567.3 L718.5 567.6 L719.3 566.7 L720.7 566.4 L721.4 565.8 L721.9 566.2 L723.0 565.7 L723.6 566.2 L724.1 566.1 L725.2 566.4 L725.7 565.9 L726.3 567.1 L727.9 567.3 L728.6 567.2 L730.0 568.3 L730.8 569.4 L732.1 572.8 L733.1 572.3 L734.3 571.1 L735.3 571.4 L736.4 570.2 L737.5 569.6 L738.7 569.4 L739.9 569.5 L740.7 568.2 L742.0 567.5 L742.9 566.9 L744.3 566.3 L745.0 566.3 L746.5 566.7 L747.1 566.9 L747.6 566.3 L748.7 566.8 L749.3 567.9 L749.9 567.7 L751.4 568.9 L752.1 570.1 L753.6 573.4 L754.3 573.9 L755.0 573.6 L755.5 573.8 L756.6 572.5 L757.1 570.7 L757.7 569.3 L758.8 568.3 L759.3 568.5 L759.9 568.4 L761.4 567.7 L762.2 567.5 L763.6 568.3 L764.4 568.2 L765.7 569.8 L766.7 569.8 L767.9 570.6 L768.9 570.8 L770.0 570.3 L771.1 569.6 L772.1 569.1 L773.4 568.3 L774.3 568.1 L775.6 568.4 L776.4 567.5 L777.9 567.3 L778.6 566.5 L780.1 567.2 L780.7 567.6 L781.2 567.5 L782.3 568.5 L782.9 568.7 L783.5 569.2 L785.0 570.0 L785.7 569.8 L787.1 570.5 L787.9 570.0 L789.3 569.9 L790.2 569.7 L791.4 569.3 L792.4 569.7 L793.6 569.2 L794.7 569.8 L795.7 568.1 L796.9 568.3 L797.9 569.1 L799.1 569.2 L800.0 569.8 L801.4 570.2 L802.1 570.9 L803.6 570.2 L804.3 569.7 L805.7 570.2 L807.1 565.2 L808.1 564.7 L809.3 564.9 L810.3 564.7 L811.4 564.9 L812.6 563.8 L813.6 564.3 L814.8 565.2 L815.7 563.5 L817.1 563.8 L817.9 561.4" stroke="#7f7f7f" stroke-width="3.9"/>
<path class="ser" d="M74.5 254.0 L75.6 253.9 L77.0 250.8 L77.9 250.2 L79.0 247.7 L80.0 245.0 L81.2 243.3 L82.5 238.4 L83.5 237.0 L85.0 233.1 L85.7 229.9 L86.4 228.5 L87.9 224.2 L89.3 217.9 L90.2 214.6 L90.7 214.6 L91.3 213.4 L92.1 207.6 L93.6 202.6 L95.0 210.0 L95.8 209.5 L96.4 216.0 L96.9 213.4 L97.9 214.6 L99.3 208.7 L100.7 202.9 L101.7 208.4 L102.5 215.5 L103.1 213.2 L103.6 211.3 L104.6 209.8 L105.9 207.9 L106.4 206.1 L107.0 203.7 L107.9 202.2 L109.3 207.0 L110.7 215.0 L111.5 216.1 L112.1 218.1 L112.6 221.2 L113.6 221.8 L115.0 219.3 L115.9 213.6 L116.4 214.8 L117.1 214.3 L117.9 217.1 L119.3 207.2 L120.7 212.2 L121.5 213.2 L122.1 217.0 L122.7 217.6 L123.6 215.8 L125.0 220.6 L126.0 226.3 L126.9 225.2 L127.9 214.0 L129.3 207.7 L130.7 202.4 L131.6 196.6 L132.1 194.0 L132.7 194.1 L133.6 188.3 L135.0 184.8 L136.4 183.1 L137.2 185.3 L137.9 185.4 L139.3 192.3 L140.7 198.0 L142.1 197.0 L142.8 191.8 L143.6 191.9 L145.0 187.1 L146.4 181.1 L147.3 173.4 L147.9 174.3 L148.4 174.2 L149.3 174.2 L150.7 173.5 L151.4 173.3 L152.9 168.4 L154.3 164.4 L155.1 161.1 L155.7 158.7 L156.3 156.6 L157.1 151.7 L158.6 144.6 L160.0 141.5 L160.7 141.9 L161.4 141.4 L161.9 145.8 L162.6 146.0 L163.6 155.9 L164.1 159.6 L165.0 164.5 L166.4 168.2 L167.9 166.8 L168.6 168.3 L169.3 172.3 L170.7 177.6 L172.1 177.3 L173.1 184.8 L174.0 177.0 L175.4 176.0 L176.4 179.4 L177.9 179.4 L178.9 190.0 L179.8 195.2 L180.3 195.0 L180.9 198.3 L181.7 201.0 L183.1 207.6 L184.3 214.2 L185.4 206.2 L186.0 204.5 L186.5 202.7 L187.1 199.5 L187.6 201.2 L188.3 206.8 L189.7 218.4 L191.4 222.9 L192.1 223.3 L192.9 227.2 L194.3 226.2 L195.7 220.4 L196.6 213.8 L197.1 209.4 L198.1 207.9 L198.8 213.7 L199.3 218.0 L199.9 220.6 L200.7 223.9 L202.1 228.9 L203.6 227.4 L204.4 223.2 L205.0 217.1 L205.5 213.3 L206.4 209.4 L207.9 201.2 L209.3 200.9 L210.0 203.1 L211.4 193.0 L212.3 182.6 L212.9 181.1 L213.4 174.5 L214.3 170.9 L215.7 164.3 L216.9 165.4 L217.9 177.1 L219.3 185.9 L220.1 188.5 L220.7 189.1 L221.2 189.8 L222.1 184.5 L223.6 190.1 L225.0 197.1 L225.7 199.8 L226.4 203.6 L227.9 209.3 L229.3 215.8 L230.2 216.7 L230.7 217.5 L231.3 218.5 L232.1 214.8 L233.6 211.6 L235.0 215.7 L235.8 215.4 L236.4 217.6 L236.9 220.9 L237.9 225.9 L239.3 231.8 L240.7 240.0 L241.4 250.6 L242.9 272.4 L243.6 283.0 L244.3 290.6 L245.7 307.5 L247.1 322.0 L248.1 322.5 L249.3 328.9 L250.7 325.6 L251.5 317.0 L252.1 311.6 L252.6 309.7 L253.6 306.9 L255.0 304.4 L255.9 310.3 L256.4 313.7 L257.1 314.7 L257.9 320.3 L259.3 323.2 L260.7 314.5 L261.5 309.5 L262.1 307.0 L262.7 308.6 L263.6 308.5 L265.0 302.3 L266.4 298.0 L267.1 296.2 L267.9 294.0 L269.3 289.0 L270.7 283.8 L271.6 279.8 L272.1 280.5 L272.7 282.7 L273.6 282.8 L275.0 278.1 L276.4 284.7 L277.2 278.9 L277.9 278.0 L279.3 271.1 L280.7 263.9 L282.1 267.0 L282.8 271.4 L283.6 275.7 L285.0 282.4 L286.4 288.5 L287.3 288.5 L287.9 288.8 L288.4 290.0 L289.3 282.4 L290.7 285.2 L292.1 289.6 L292.9 289.5 L293.6 288.1 L295.0 283.5 L296.4 274.6 L297.4 271.7 L297.9 270.1 L298.5 272.8 L299.3 276.6 L300.7 275.8 L302.1 273.4 L303.0 272.9 L303.6 267.7 L304.1 264.2 L305.0 263.4 L306.4 258.2 L307.9 256.4 L308.6 256.4 L309.3 259.2 L310.7 266.0 L312.1 259.7 L313.1 256.5 L313.6 249.9 L314.2 249.8 L315.0 251.2 L316.4 256.1 L317.9 255.0 L318.7 254.9 L319.3 257.4 L319.8 259.5 L320.7 260.2 L322.1 262.3 L323.1 261.5 L323.6 261.7 L324.3 264.8 L325.0 263.4 L326.4 268.0 L327.9 276.6 L328.7 279.2 L329.3 285.6 L329.9 290.0 L330.7 293.0 L332.1 298.7 L333.6 300.1 L334.3 304.1 L335.0 304.2 L335.5 306.1 L336.4 306.5 L337.9 305.0 L338.8 307.3 L339.9 310.2 L341.4 321.0 L342.2 327.5 L343.6 329.6 L344.4 331.8 L345.7 331.9 L346.4 330.9 L347.9 329.2 L349.3 335.4 L350.0 342.1 L350.7 344.7 L352.1 347.4 L353.6 345.5 L354.5 342.4 L355.0 338.5 L355.6 335.6 L356.4 328.8 L357.9 319.7 L358.6 305.8 L360.0 298.7 L361.2 296.3 L362.1 296.3 L363.5 297.9 L364.3 298.1 L365.7 291.8 L367.1 286.9 L367.9 285.7 L368.6 280.1 L369.1 277.6 L370.0 273.5 L371.3 270.5 L372.1 270.2 L373.6 274.7 L375.0 285.0 L375.8 284.3 L376.4 287.3 L376.9 284.8 L377.9 281.6 L379.3 275.8 L380.7 277.6 L381.4 282.9 L382.1 285.9 L383.6 292.6 L385.0 296.7 L385.9 302.8 L387.1 304.4 L388.1 307.9 L389.3 312.7 L390.3 315.5 L391.4 315.8 L392.6 317.5 L393.6 320.9 L395.0 323.9 L395.9 333.5 L396.4 337.9 L397.1 341.6 L398.3 348.9 L399.3 355.8 L400.0 363.0 L401.4 374.5 L402.7 380.9 L403.6 382.6 L404.9 383.8 L405.7 383.0 L407.1 383.1 L407.9 382.1 L409.4 379.5 L410.0 376.3 L410.5 375.5 L411.6 371.5 L412.1 370.5 L412.7 373.3 L413.6 377.9 L414.3 384.7 L415.0 387.7 L415.7 394.4 L417.1 397.9 L418.6 396.8 L419.5 402.4 L420.0 403.1 L420.6 406.3 L421.4 409.6 L422.8 413.2 L423.6 411.9 L425.1 407.0 L425.7 405.8 L426.2 406.1 L427.3 405.4 L427.9 404.3 L428.4 402.8 L429.5 402.3 L430.0 403.0 L430.7 402.1 L432.1 399.4 L432.9 393.8 L433.6 391.0 L435.0 383.0 L436.4 392.0 L437.4 398.0 L437.9 397.3 L438.5 398.6 L439.3 400.2 L440.7 404.5 L441.4 404.4 L441.9 403.0 L442.9 407.3 L444.1 421.6 L444.6 428.9 L445.2 438.0 L446.0 443.5 L447.1 450.1 L448.6 453.5 L449.3 453.7 L450.8 450.6 L451.4 449.1 L451.9 448.4 L453.1 452.2 L453.6 456.3 L454.2 455.7 L455.7 453.6 L456.4 452.9 L457.9 451.1 L458.7 449.4 L460.0 442.2 L460.9 453.5 L461.4 458.8 L462.0 457.5 L462.9 449.8 L464.3 445.5 L465.4 442.3 L466.4 434.6 L467.6 429.1 L468.6 426.1 L469.9 427.8 L470.7 428.2 L472.1 428.1 L472.9 430.0 L474.3 428.4 L475.0 429.6 L475.5 429.8 L476.6 427.7 L477.1 427.8 L477.7 427.9 L478.8 426.9 L480.0 426.4 L481.1 423.3 L482.2 417.6 L482.9 416.0 L484.4 414.1 L485.0 412.6 L485.5 411.2 L487.1 408.0 L487.8 409.4 L489.3 411.7 L490.0 412.1 L491.4 414.9 L492.3 415.8 L493.6 426.1 L494.5 428.8 L495.7 441.6 L496.7 444.7 L497.9 444.0 L499.0 440.9 L500.0 440.5 L501.4 442.4 L502.3 435.6 L503.1 428.0 L505.0 413.4 L505.7 407.2 L507.1 399.6 L507.9 397.9 L508.9 388.9 L510.2 382.0 L511.3 376.4 L512.4 374.8 L513.5 371.0 L514.7 363.6 L515.8 357.2 L516.4 358.1 L516.9 359.3 L518.0 353.6 L518.6 349.8 L519.1 348.5 L520.0 343.6 L521.4 343.4 L522.1 343.8 L523.6 344.6 L524.3 344.7 L525.7 355.5 L527.1 363.6 L528.1 364.1 L529.3 363.6 L530.7 356.1 L531.5 356.5 L532.1 357.0 L532.6 357.9 L533.7 355.4 L534.3 353.8 L534.8 351.0 L535.7 347.5 L537.1 340.7 L538.6 334.4 L539.6 333.7 L540.7 339.4 L541.5 342.3 L542.1 347.5 L542.7 350.3 L543.6 353.1 L545.0 355.7 L546.4 357.7 L547.1 357.6 L547.9 356.5 L549.4 355.9 L550.0 355.9 L550.5 359.1 L551.4 360.1 L552.7 362.9 L553.6 362.4 L555.0 362.1 L555.7 364.3 L557.2 366.0 L557.9 367.3 L559.5 371.8 L560.0 369.9 L560.6 370.1 L562.1 370.6 L562.8 367.9 L563.6 367.2 L565.0 362.6 L566.4 361.5 L567.3 361.9 L567.9 363.5 L568.4 362.4 L569.5 362.0 L570.0 362.5 L570.7 367.3 L571.4 370.3 L572.9 375.7 L574.3 379.9 L575.1 381.6 L575.7 387.2 L576.3 386.8 L577.1 389.5 L578.6 381.5 L580.0 375.7 L580.7 373.8 L581.4 374.6 L581.9 374.5 L582.6 377.5 L583.6 386.6 L584.1 390.0 L585.0 395.0 L586.4 399.6 L587.5 400.4 L588.6 401.2 L590.0 408.1 L590.8 414.9 L591.4 413.1 L591.9 412.4 L592.9 413.7 L594.2 418.5 L595.0 418.2 L596.4 422.2 L597.1 426.4 L598.7 430.1 L599.3 431.0 L599.8 429.3 L600.9 436.6 L601.4 441.2 L602.0 443.7 L602.9 445.2 L604.3 436.0 L605.4 428.1 L606.4 426.1 L607.9 419.4 L608.7 419.4 L609.3 421.3 L609.9 429.1 L610.7 439.8 L612.1 452.5 L613.6 453.3 L614.3 442.7 L615.0 440.3 L615.5 437.5 L616.4 433.2 L617.7 430.1 L618.6 425.6 L619.9 419.2 L620.7 419.6 L622.1 412.8 L623.6 406.0 L624.4 401.3 L625.0 399.0 L625.5 399.1 L626.4 406.9 L627.9 413.6 L628.9 413.8 L630.0 411.7 L631.4 423.2 L632.3 430.2 L632.9 430.0 L633.4 429.1 L634.5 431.6 L635.0 434.8 L635.6 430.7 L636.4 426.1 L637.9 421.9 L639.3 430.1 L640.1 431.4 L640.7 433.5 L641.2 432.1 L642.3 429.9 L642.9 429.5 L643.5 429.5 L644.3 427.9 L645.7 421.7 L646.4 421.6 L647.9 414.4 L649.3 422.5 L650.2 427.4 L650.7 427.0 L651.3 425.7 L652.4 425.5 L652.9 426.1 L653.5 425.4 L655.0 424.2 L655.8 423.7 L656.4 420.7 L656.9 421.4 L657.9 426.0 L659.3 439.4 L660.7 442.0 L661.4 443.5 L662.1 449.6 L663.6 457.9 L664.3 460.3 L665.9 463.4 L666.4 462.4 L667.0 463.2 L668.1 464.9 L668.6 465.3 L669.3 456.7 L670.7 463.1 L671.5 464.5 L672.1 464.3 L672.6 461.2 L673.6 455.3 L674.8 448.9 L675.3 448.4 L675.9 452.5 L676.4 455.0 L677.1 458.2 L677.9 459.4 L679.3 462.3 L680.0 462.0 L681.4 465.7 L682.9 476.6 L683.8 483.1 L684.3 490.7 L684.9 495.8 L685.7 502.1 L687.1 507.2 L687.9 509.7 L689.3 514.8 L690.5 523.8 L691.4 525.8 L693.1 532.2 L693.9 526.6 L695.0 524.6 L696.4 515.7 L697.2 512.4 L697.9 504.9 L699.3 515.0 L700.7 514.6 L702.1 501.9 L703.1 494.3 L704.3 487.7 L705.1 488.9 L705.7 484.5 L706.2 482.1 L707.1 470.7 L708.4 465.7 L709.5 460.8 L710.0 461.3 L710.7 461.5 L712.1 460.4 L712.9 465.2 L713.6 467.0 L715.0 475.3 L716.4 468.2 L717.4 465.1 L718.3 460.3 L720.0 465.5 L720.7 469.8 L721.4 471.4 L721.9 470.7 L722.9 475.9 L724.3 481.2 L725.2 480.6 L725.7 477.5 L726.3 479.5 L727.9 482.7 L728.6 485.9 L730.0 488.4 L730.8 491.0 L732.1 490.1 L733.1 489.3 L734.3 486.7 L735.3 487.6 L736.4 488.1 L737.5 487.9 L738.6 491.9 L739.8 491.3 L740.7 493.6 L742.0 492.0 L742.9 489.3 L744.3 478.3 L745.7 471.9 L746.5 473.7 L747.1 475.9 L747.6 475.1 L748.7 476.8 L749.3 478.6 L749.9 480.6 L750.7 487.4 L752.1 490.2 L752.9 490.1 L754.3 494.8 L755.7 479.1 L756.6 471.5 L757.1 469.3 L757.7 468.5 L758.8 468.5 L759.3 467.6 L759.9 467.8 L761.4 467.9 L762.2 469.3 L763.6 470.1 L764.4 472.9 L765.7 472.2 L766.7 474.5 L767.9 476.2 L768.9 481.7 L770.0 482.1 L771.4 482.7 L772.3 476.1 L773.6 474.2 L774.5 469.4 L775.0 471.1 L775.6 471.1 L776.4 469.4 L777.9 459.8 L779.3 451.0 L780.1 450.0 L781.4 449.8 L782.3 449.4 L782.9 455.2 L783.5 456.7 L784.3 459.6 L785.7 462.0 L786.4 461.1 L787.9 463.8 L788.6 466.6 L789.1 467.1 L790.0 461.9 L791.4 459.0 L792.4 460.0 L793.6 462.2 L795.0 457.4 L795.8 454.8 L796.4 455.9 L796.9 459.8 L797.9 464.4 L799.1 465.5 L799.9 469.9 L800.7 471.6 L801.4 471.4 L802.1 472.9 L803.6 475.4 L804.3 474.6 L805.9 471.3 L806.4 471.9 L807.0 469.6 L807.9 471.3 L809.3 474.4 L810.7 470.6 L811.5 463.5 L812.1 463.3 L812.6 460.5 L813.6 457.8 L815.0 453.8 L815.9 451.6 L816.4 449.7 L817.4 443.5 L818.3 438.6" stroke="#3b93a9" stroke-width="4.3"/>
<path class="ser" d="M75.0 319.3 L76.4 308.7 L77.2 300.0 L77.9 299.1 L78.4 298.2 L79.5 300.4 L80.0 303.0 L80.6 301.7 L81.7 296.5 L82.8 289.9 L83.6 285.2 L85.4 281.9 L86.2 275.1 L86.9 271.5 L88.3 263.4 L90.0 260.7 L90.7 258.4 L92.1 255.1 L92.9 254.4 L94.0 253.9 L95.4 261.9 L96.4 265.7 L97.4 263.7 L97.9 264.5 L98.5 261.6 L99.3 258.9 L100.7 255.0 L102.1 255.5 L103.0 254.4 L103.6 260.2 L104.1 264.8 L105.0 264.8 L106.4 262.7 L106.9 262.5 L107.5 259.8 L108.6 259.3 L110.0 266.1 L110.8 268.1 L111.4 275.1 L112.0 278.6 L112.9 278.5 L114.2 278.3 L115.0 281.8 L116.4 279.9 L117.1 278.6 L117.6 275.1 L118.7 273.3 L119.3 271.9 L119.8 271.7 L120.7 273.8 L122.1 278.8 L123.2 280.3 L124.3 282.5 L125.4 285.5 L126.4 285.3 L127.9 282.2 L128.8 275.9 L129.3 271.7 L129.9 268.2 L130.7 265.6 L132.1 259.8 L133.6 254.2 L134.4 255.9 L135.0 249.7 L135.5 248.8 L136.4 250.3 L137.9 253.3 L138.8 256.8 L139.3 258.3 L140.0 258.6 L140.7 260.3 L142.6 263.9 L143.3 265.1 L144.0 262.1 L145.4 254.0 L146.9 245.5 L147.9 239.5 L149.3 239.1 L150.0 240.7 L150.7 241.4 L151.2 241.2 L152.1 243.7 L153.6 237.6 L154.5 236.2 L155.0 230.9 L155.6 228.8 L156.4 227.6 L157.9 210.4 L159.0 209.1 L160.0 203.4 L161.2 203.6 L162.1 207.8 L163.6 228.3 L164.6 228.9 L165.7 233.0 L166.8 234.3 L167.9 236.2 L169.1 238.9 L170.0 240.9 L171.3 241.3 L172.1 241.5 L173.6 238.6 L174.3 239.8 L175.8 238.1 L176.4 237.7 L176.9 235.4 L178.0 234.9 L178.6 236.3 L179.2 236.5 L180.7 237.5 L181.4 236.7 L182.9 236.8 L183.6 237.4 L184.3 234.8 L184.8 234.7 L185.7 229.6 L187.4 227.9 L188.1 231.9 L189.3 234.3 L190.7 241.9 L191.5 248.5 L192.1 248.2 L192.6 251.8 L193.6 253.8 L194.8 254.7 L195.7 258.9 L197.1 255.3 L198.6 253.8 L199.3 256.1 L200.0 259.3 L201.4 263.5 L202.7 260.8 L203.6 260.7 L205.0 254.7 L206.4 250.4 L207.2 247.8 L207.9 245.8 L209.3 243.3 L210.7 229.9 L211.6 230.0 L212.1 224.5 L212.8 218.4 L213.6 211.2 L215.0 200.7 L216.4 196.8 L217.2 201.5 L217.9 203.2 L218.4 202.5 L219.3 206.6 L220.7 203.6 L222.1 199.3 L222.8 199.6 L223.6 204.6 L225.0 215.2 L226.4 224.1 L227.3 227.0 L227.9 231.0 L228.4 237.4 L229.3 236.3 L230.7 230.4 L232.1 224.2 L232.9 226.0 L233.6 229.3 L235.0 236.8 L236.3 236.2 L237.1 237.7 L238.5 242.3 L239.3 245.1 L240.7 270.6 L242.1 281.5 L243.0 285.1 L243.6 286.3 L244.1 289.6 L245.0 289.5 L246.4 299.5 L247.9 306.4 L248.6 303.5 L249.3 302.4 L250.7 284.2 L252.1 278.4 L253.1 279.5 L253.6 278.1 L254.2 280.3 L255.0 284.3 L256.4 291.3 L257.9 290.0 L258.7 291.6 L259.3 296.2 L259.8 296.6 L260.7 298.2 L262.1 290.0 L263.6 282.9 L264.3 284.7 L265.0 284.0 L266.4 290.5 L267.9 284.9 L268.8 280.1 L269.3 276.3 L269.9 269.1 L270.7 268.1 L272.1 259.4 L273.3 257.1 L274.3 263.0 L275.7 272.0 L276.6 276.1 L277.1 277.3 L277.7 278.4 L278.6 279.7 L280.0 277.5 L281.4 278.6 L282.2 283.6 L282.9 284.2 L284.3 290.3 L285.7 295.3 L287.1 292.1 L287.8 292.1 L288.6 291.3 L290.0 292.7 L291.4 295.1 L292.3 293.1 L292.9 292.3 L293.4 292.1 L294.3 290.8 L295.7 292.2 L297.1 289.2 L297.9 288.9 L298.6 289.9 L300.0 295.6 L301.4 300.4 L302.4 302.7 L302.9 304.0 L303.5 304.6 L304.6 302.7 L305.7 301.5 L306.8 299.4 L308.0 298.5 L308.6 299.0 L309.1 298.6 L310.2 298.7 L310.7 298.7 L311.3 300.3 L312.4 297.9 L312.9 295.1 L313.6 295.4 L314.3 296.1 L315.8 296.1 L317.1 297.6 L318.0 299.1 L319.2 300.6 L320.0 302.2 L321.4 305.6 L322.1 305.3 L323.6 307.5 L324.3 308.4 L324.8 311.1 L325.7 314.3 L327.1 319.7 L328.1 323.1 L328.6 327.9 L329.2 330.6 L330.0 332.3 L331.4 337.0 L332.6 333.6 L333.6 332.1 L334.8 332.2 L335.7 338.1 L337.1 342.8 L337.9 344.5 L339.3 348.1 L340.4 351.5 L341.4 359.6 L342.7 369.0 L343.6 371.1 L345.0 374.4 L346.4 367.1 L347.2 362.2 L347.9 356.0 L349.3 365.1 L350.5 363.4 L351.4 358.4 L352.8 350.5 L353.6 348.7 L355.0 344.8 L355.7 341.5 L357.1 334.7 L358.6 328.6 L359.3 322.5 L360.7 316.7 L362.1 310.0 L362.8 308.1 L364.3 307.1 L365.1 303.6 L365.7 303.7 L366.2 303.2 L367.1 298.4 L368.6 292.1 L370.0 288.0 L370.7 288.5 L371.4 286.8 L372.9 290.9 L374.3 293.5 L375.2 292.4 L376.4 292.2 L377.4 288.8 L377.9 286.1 L378.5 285.3 L379.3 278.1 L380.7 276.4 L382.1 280.6 L383.0 282.9 L383.6 289.3 L384.1 293.8 L385.0 296.1 L386.4 301.1 L387.9 304.3 L388.6 308.4 L389.3 311.3 L390.7 315.3 L392.1 316.4 L393.1 312.0 L393.6 310.8 L394.2 309.8 L395.0 306.9 L396.4 307.2 L397.9 315.1 L398.7 317.9 L399.3 324.8 L399.8 330.9 L400.7 333.7 L401.4 350.0 L402.0 355.7 L402.9 359.3 L404.3 370.4 L405.7 377.7 L406.5 378.4 L407.1 374.1 L407.6 370.1 L408.6 362.9 L410.0 351.8 L411.4 339.2 L412.1 335.0 L412.9 329.2 L414.3 307.2 L415.7 292.6 L416.6 287.2 L417.1 284.3 L417.7 287.3 L418.6 293.9 L420.0 304.8 L421.4 317.1 L422.2 318.5 L422.9 316.8 L423.9 310.4 L424.4 312.7 L425.0 317.8 L425.6 325.3 L426.4 329.7 L427.9 342.9 L429.3 345.9 L430.0 342.9 L430.7 340.1 L431.2 340.1 L432.1 343.3 L432.9 354.2 L433.4 355.0 L434.3 346.1 L435.4 339.2 L436.9 342.7 L438.3 346.8 L439.0 340.2 L439.7 337.8 L441.1 331.8 L442.6 341.1 L443.5 345.9 L444.0 351.4 L444.6 357.8 L445.4 357.5 L446.4 365.4 L447.4 380.8 L448.3 397.9 L449.1 390.4 L449.7 385.4 L450.2 383.1 L451.1 376.0 L451.9 364.8 L452.4 371.8 L452.9 377.2 L454.0 391.8 L454.7 398.4 L455.4 406.0 L456.4 411.8 L456.9 407.6 L457.9 401.4 L459.3 407.4 L460.3 414.8 L461.1 414.4 L462.9 404.3 L463.6 400.7 L464.6 395.5 L465.9 399.6 L466.4 400.6 L467.0 403.0 L467.9 401.9 L469.2 402.4 L469.9 400.3 L470.7 397.8 L471.5 399.1 L472.1 403.6 L472.6 403.0 L473.6 409.4 L475.0 404.0 L476.4 410.2 L477.1 411.7 L477.9 419.3 L479.3 418.3 L480.7 413.5 L481.6 406.5 L482.1 404.9 L482.7 404.2 L483.6 403.9 L485.0 402.8 L486.4 400.4 L487.2 399.7 L487.9 396.5 L489.3 395.3 L490.7 404.9 L491.6 412.3 L492.1 410.9 L492.8 411.5 L493.6 411.5 L495.0 415.1 L496.4 419.6 L497.2 424.6 L497.9 428.6 L498.4 430.9 L499.3 434.3 L500.7 440.5 L501.7 434.9 L502.9 428.7 L504.0 427.1 L505.0 425.9 L506.4 413.4 L507.3 412.3 L507.9 409.6 L508.4 409.0 L509.3 405.4 L510.7 402.4 L512.1 399.6 L512.9 400.2 L514.3 400.5 L515.2 398.8 L516.4 398.7 L517.4 393.8 L517.9 392.6 L518.5 390.7 L519.3 386.3 L521.1 375.4 L521.9 378.2 L522.9 377.2 L524.3 381.4 L525.2 383.6 L525.7 387.7 L526.4 388.4 L527.1 388.9 L528.6 393.1 L530.0 397.9 L530.8 397.7 L531.4 397.1 L532.0 398.1 L532.9 395.4 L534.3 399.2 L535.7 396.2 L536.4 391.5 L537.1 390.2 L537.6 389.8 L538.6 385.7 L540.0 382.4 L540.9 388.7 L541.4 387.4 L542.0 390.7 L542.9 391.4 L544.3 395.3 L545.7 396.3 L546.5 398.6 L547.9 399.7 L548.8 400.2 L550.0 401.7 L551.0 402.8 L552.1 406.3 L553.2 409.9 L554.3 412.3 L555.7 418.0 L556.6 419.5 L557.9 421.2 L558.8 423.1 L560.0 429.2 L561.1 432.6 L562.1 434.5 L563.3 439.8 L564.3 439.7 L565.6 441.1 L566.4 442.0 L567.9 447.9 L568.9 450.1 L570.0 450.6 L571.2 451.3 L572.1 452.5 L573.6 457.0 L574.5 463.9 L575.0 465.9 L575.6 468.3 L576.4 470.0 L577.9 476.6 L579.3 470.6 L580.1 467.1 L580.7 460.8 L581.2 462.9 L582.1 465.8 L583.6 472.6 L584.6 472.8 L585.7 474.4 L587.1 471.7 L588.0 474.0 L588.6 478.1 L589.1 479.9 L590.2 482.3 L590.7 482.4 L591.3 484.0 L592.1 489.6 L593.6 497.6 L594.3 499.2 L595.8 502.9 L596.4 504.7 L596.9 508.1 L598.0 510.2 L598.6 511.1 L599.2 514.0 L600.7 523.0 L601.4 524.8 L602.9 528.3 L603.6 527.3 L605.0 525.8 L605.9 526.9 L607.1 527.2 L608.1 527.2 L609.3 525.6 L610.7 533.9 L611.5 536.7 L612.9 539.6 L613.7 542.7 L615.0 543.1 L616.4 540.2 L617.1 534.2 L617.9 522.3 L619.3 506.0 L620.7 501.1 L621.6 493.8 L622.1 490.4 L622.7 485.3 L623.6 481.1 L625.0 478.8 L626.0 477.7 L627.1 474.5 L628.6 476.1 L629.4 482.3 L630.0 485.8 L630.5 488.7 L631.4 496.7 L632.8 498.4 L633.6 499.2 L635.0 496.7 L635.7 494.2 L637.1 489.6 L638.6 494.7 L639.5 494.5 L640.0 497.4 L640.6 498.8 L642.1 506.4 L642.8 508.7 L644.3 508.5 L645.1 505.6 L646.4 504.5 L647.3 505.8 L648.6 496.5 L650.0 498.0 L650.7 510.1 L652.1 501.1 L652.9 494.5 L653.6 496.1 L655.0 500.6 L656.3 499.5 L657.1 497.0 L658.6 502.0 L660.0 511.6 L660.8 520.8 L661.4 522.3 L661.9 522.0 L663.0 523.9 L663.6 523.7 L664.1 525.7 L665.2 528.9 L665.7 529.6 L666.4 532.6 L667.9 532.3 L668.6 535.0 L670.0 537.0 L670.8 538.3 L671.4 542.6 L672.0 541.9 L672.9 537.9 L674.3 530.2 L675.3 526.6 L676.0 523.1 L677.1 531.1 L677.6 532.9 L678.6 535.0 L680.0 536.4 L680.9 538.1 L682.1 539.6 L683.2 539.3 L684.3 541.7 L685.7 552.9 L686.5 555.3 L687.1 561.1 L687.6 558.4 L688.6 556.8 L689.9 558.4 L690.7 562.3 L692.1 560.6 L692.9 561.6 L694.4 561.2 L695.0 559.1 L695.5 558.2 L696.6 557.3 L697.1 557.2 L697.7 557.4 L698.8 556.6 L699.9 555.9 L701.4 557.8 L702.2 555.0 L702.9 549.2 L704.3 537.9 L705.7 526.4 L707.1 514.4 L707.8 514.2 L709.3 513.6 L710.0 515.0 L711.4 512.1 L712.3 511.7 L713.6 510.4 L714.5 508.8 L715.0 514.9 L715.6 511.7 L716.4 512.2 L717.9 497.0 L719.3 493.0 L720.1 492.8 L721.4 490.8 L722.4 498.0 L722.9 495.6 L723.5 496.3 L724.3 500.7 L725.7 484.9 L727.1 490.8 L728.0 494.6 L728.6 497.1 L729.1 498.4 L730.2 499.9 L730.7 500.5 L731.3 500.1 L732.4 503.2 L733.6 507.7 L734.7 507.2 L735.7 508.2 L736.9 507.9 L737.9 513.8 L739.2 519.4 L740.0 519.0 L741.4 519.5 L742.1 523.3 L743.6 525.9 L745.0 503.4 L745.9 510.0 L746.4 509.7 L747.0 515.4 L747.9 514.5 L749.2 513.7 L750.0 510.5 L751.5 513.6 L752.1 518.0 L752.6 520.7 L753.7 522.0 L754.3 523.5 L754.8 523.4 L755.7 522.1 L757.1 517.9 L757.9 516.7 L759.3 515.7 L760.0 513.3 L761.6 512.5 L762.1 507.8 L762.7 512.6 L763.6 511.9 L764.9 518.7 L765.7 517.9 L767.2 523.3 L767.9 522.3 L769.3 524.1 L770.5 519.2 L771.4 517.8 L772.8 510.4 L773.6 511.0 L775.0 507.0 L775.7 506.7 L777.2 500.2 L777.9 502.0 L778.4 499.4 L779.3 493.1 L780.6 497.3 L781.7 503.4 L782.9 502.4 L784.0 503.5 L785.0 508.4 L786.4 513.4 L787.3 515.4 L788.6 515.3 L789.6 515.2 L790.7 511.2 L791.8 511.9 L792.9 512.1 L794.0 512.8 L795.0 513.4 L796.3 510.7 L797.1 509.9 L798.5 510.2 L799.3 511.2 L800.7 517.3 L801.9 519.4 L802.9 521.8 L804.3 523.4 L805.2 518.7 L806.0 519.0 L807.9 517.7 L808.6 517.8 L810.0 520.3 L810.8 520.0 L812.1 518.8 L813.1 518.7 L814.3 514.3 L815.3 512.2 L816.4 509.1 L817.9 504.3" stroke="#e0813a" stroke-width="4.2"/>
<path class="ser" d="M74.3 262.1 L75.7 255.1 L76.5 250.1 L77.1 247.9 L77.7 248.1 L78.8 245.2 L79.3 244.9 L79.9 244.9 L81.4 246.8 L82.1 247.6 L83.6 243.6 L84.4 240.0 L85.0 239.2 L85.5 235.1 L86.4 232.6 L87.9 228.7 L89.3 225.5 L90.0 226.0 L91.4 226.2 L92.2 226.6 L93.6 224.2 L94.5 223.4 L95.0 226.4 L95.6 228.3 L96.4 231.4 L97.9 228.1 L99.3 220.9 L100.1 215.5 L100.7 213.7 L101.2 213.7 L102.1 215.9 L103.6 224.5 L104.5 228.6 L105.0 231.0 L105.7 231.9 L107.1 234.3 L107.9 234.1 L109.3 233.0 L110.1 235.9 L110.7 236.9 L111.4 249.6 L112.4 253.0 L112.9 253.6 L113.5 253.0 L114.3 254.0 L115.7 257.4 L117.1 253.6 L118.0 249.9 L118.6 248.4 L119.1 248.6 L120.0 248.9 L121.4 254.4 L122.9 259.4 L123.6 264.6 L124.3 263.6 L125.7 267.5 L127.1 270.6 L128.1 268.3 L128.6 266.7 L129.2 266.8 L130.0 261.5 L131.4 254.2 L132.9 249.6 L133.7 249.1 L135.0 246.1 L135.9 245.3 L136.4 246.8 L137.0 248.2 L137.9 252.4 L139.3 256.0 L140.7 257.6 L141.5 257.6 L142.1 259.3 L142.6 259.7 L143.6 256.1 L145.0 252.6 L146.4 248.4 L147.1 249.3 L147.9 249.3 L149.3 244.5 L150.7 243.3 L151.6 245.2 L152.1 245.7 L152.7 240.3 L153.6 238.2 L155.0 230.6 L156.4 224.6 L157.2 215.0 L157.9 211.9 L159.4 210.3 L160.0 207.3 L160.5 209.3 L162.1 210.8 L162.8 213.0 L163.6 216.6 L165.0 221.6 L166.1 224.2 L167.1 225.2 L168.4 234.5 L169.3 234.5 L170.6 238.3 L171.4 237.8 L172.9 239.7 L173.6 238.8 L175.1 234.0 L175.7 233.9 L176.2 233.1 L177.1 234.0 L178.6 238.8 L180.0 242.0 L180.7 243.0 L181.4 247.3 L182.9 253.9 L184.3 258.3 L185.2 255.8 L186.0 251.9 L187.1 252.6 L188.6 258.9 L190.0 266.7 L190.8 268.8 L191.4 271.4 L191.9 272.6 L193.0 275.3 L193.6 274.7 L194.1 273.4 L195.7 273.6 L196.4 274.5 L197.1 277.5 L198.6 286.1 L200.0 294.3 L200.9 299.8 L201.4 302.0 L202.0 304.7 L202.9 304.2 L204.3 300.6 L205.7 290.3 L206.5 286.1 L207.1 282.7 L207.6 284.3 L208.6 279.8 L209.9 279.3 L210.7 293.3 L212.1 292.5 L212.9 290.0 L214.3 283.8 L215.0 278.5 L216.4 270.0 L217.9 276.6 L218.8 277.5 L220.0 279.8 L221.0 277.8 L222.1 273.1 L223.6 279.1 L224.4 286.4 L225.0 287.7 L225.5 291.0 L226.4 292.2 L227.9 296.4 L229.3 300.9 L230.0 299.4 L230.7 293.0 L232.1 289.5 L233.3 283.7 L234.3 283.2 L235.7 278.0 L237.1 277.6 L237.8 277.3 L239.3 280.8 L240.1 282.7 L240.7 282.8 L241.2 283.3 L241.7 291.7 L242.3 300.1 L242.9 306.5 L243.4 310.5 L244.3 320.8 L245.0 337.8 L245.7 347.1 L246.4 352.5 L247.9 355.2 L249.3 358.4 L250.1 366.9 L250.7 369.0 L251.3 367.0 L252.1 356.8 L253.6 339.3 L255.0 335.0 L255.7 335.3 L256.4 330.7 L256.9 334.8 L257.9 335.4 L259.3 349.0 L260.2 353.0 L260.7 357.8 L261.3 350.2 L262.1 347.5 L263.6 338.1 L265.0 333.8 L265.8 333.6 L267.1 329.0 L268.1 327.4 L269.3 324.8 L270.7 320.8 L271.4 310.3 L272.9 302.9 L273.7 302.2 L274.3 299.2 L274.8 297.8 L275.7 301.2 L277.1 309.0 L278.1 314.4 L278.6 317.1 L279.3 318.3 L280.0 315.8 L281.4 298.8 L282.9 290.7 L283.7 291.9 L284.3 297.7 L284.9 299.2 L285.7 306.4 L287.1 307.9 L288.6 312.1 L289.3 317.4 L290.0 317.3 L290.5 319.3 L291.4 312.4 L292.9 302.8 L293.8 296.4 L294.3 298.8 L294.9 301.1 L295.7 302.5 L297.1 298.2 L298.6 304.1 L299.4 310.9 L300.0 314.5 L300.5 313.3 L301.4 316.9 L302.9 311.0 L304.3 303.2 L305.0 301.3 L305.7 294.5 L307.1 292.1 L308.6 299.1 L309.5 306.2 L310.0 307.3 L310.6 306.7 L311.4 308.7 L312.9 303.3 L314.3 305.4 L315.1 308.2 L315.7 306.8 L316.2 303.4 L317.1 302.0 L318.6 298.2 L320.0 296.1 L320.7 290.0 L321.4 290.1 L322.9 286.7 L324.3 286.0 L325.2 286.7 L325.7 288.3 L326.3 293.7 L327.1 300.4 L328.6 307.4 L330.0 310.8 L330.8 309.8 L331.4 309.5 L331.9 311.0 L332.9 313.9 L334.3 320.6 L335.7 327.4 L336.4 329.5 L337.1 329.6 L338.6 320.9 L339.7 324.5 L340.7 328.3 L342.0 330.8 L342.9 331.3 L344.3 348.4 L345.7 343.2 L346.5 342.3 L347.1 341.2 L347.6 343.3 L348.6 348.0 L350.0 356.3 L350.9 358.2 L351.4 361.4 L352.1 359.6 L352.9 357.2 L354.3 353.2 L355.0 350.6 L356.4 342.7 L357.9 336.2 L358.8 335.0 L359.3 331.3 L359.9 329.5 L360.7 326.7 L362.1 322.4 L362.9 320.5 L364.4 319.2 L365.0 317.9 L365.5 314.5 L366.6 311.0 L367.1 312.2 L367.7 310.8 L368.6 306.4 L370.0 304.1 L370.7 302.9 L372.2 305.3 L372.9 303.9 L374.3 308.5 L375.7 314.5 L377.1 311.2 L377.8 308.0 L378.6 306.1 L380.0 304.8 L381.4 309.8 L382.3 311.3 L382.9 314.8 L383.4 314.1 L384.5 318.6 L385.0 321.0 L385.7 323.0 L387.1 325.1 L387.9 325.6 L389.3 327.9 L390.1 328.7 L391.4 329.4 L392.4 329.4 L393.6 329.7 L395.0 344.8 L395.7 346.6 L396.4 348.3 L396.9 349.6 L397.9 354.3 L399.3 365.7 L400.2 372.8 L400.7 377.3 L401.3 381.7 L402.1 385.3 L403.6 394.0 L405.0 403.2 L405.8 407.0 L406.4 408.7 L406.9 407.5 L407.9 404.5 L409.3 396.4 L410.7 391.3 L411.4 390.2 L412.1 385.1 L413.6 394.0 L415.0 402.7 L415.9 403.7 L416.4 404.5 L417.0 403.2 L417.9 407.7 L419.3 411.5 L420.4 414.1 L421.4 416.3 L422.6 416.0 L423.7 418.2 L425.0 418.8 L426.0 418.5 L427.1 417.8 L428.6 417.1 L429.3 416.4 L430.7 414.7 L431.6 415.0 L432.9 412.7 L433.8 411.9 L434.3 405.8 L434.9 401.7 L435.4 398.4 L436.1 399.5 L436.9 405.1 L438.3 408.6 L439.4 407.1 L440.0 405.6 L440.5 406.8 L441.4 409.3 L442.9 414.4 L444.3 424.8 L445.0 429.5 L445.7 433.8 L447.1 441.0 L448.6 435.5 L449.5 435.8 L450.0 434.0 L450.6 433.9 L451.4 438.0 L452.9 444.8 L454.3 446.3 L455.1 442.0 L455.7 441.8 L456.2 441.9 L457.1 436.4 L458.6 431.1 L460.0 423.3 L460.7 423.5 L461.4 425.2 L462.9 419.2 L464.3 417.7 L465.2 422.7 L465.7 431.2 L466.3 432.4 L467.1 437.5 L468.6 434.4 L470.0 429.5 L470.8 431.7 L471.4 432.3 L471.9 435.4 L472.9 437.5 L474.3 440.1 L475.7 438.8 L476.4 437.9 L477.1 433.5 L478.6 431.6 L480.0 426.4 L480.9 422.3 L481.4 423.7 L482.0 422.1 L482.9 422.0 L484.3 418.8 L485.7 417.5 L486.5 417.4 L487.1 416.2 L487.6 417.4 L488.6 414.6 L490.0 420.1 L490.9 424.3 L491.4 428.2 L492.1 429.0 L492.9 431.5 L494.3 426.1 L495.7 433.5 L496.5 436.0 L497.1 438.3 L497.7 440.7 L498.6 439.8 L500.0 438.2 L501.4 427.8 L502.1 424.5 L502.9 422.6 L504.3 419.8 L505.7 413.1 L506.6 406.0 L507.1 404.1 L507.7 403.3 L508.6 395.8 L510.0 388.6 L511.4 375.7 L512.2 380.8 L512.9 384.2 L514.3 387.0 L515.7 372.8 L517.1 361.7 L517.8 360.4 L519.3 357.8 L520.1 357.5 L521.4 356.5 L522.3 357.2 L522.9 358.1 L523.4 359.2 L524.3 365.4 L525.7 370.2 L527.1 371.9 L527.9 373.7 L528.6 377.9 L530.0 380.9 L531.4 372.7 L532.4 372.3 L532.9 371.1 L533.5 372.8 L534.3 373.9 L535.7 370.4 L537.1 363.5 L538.0 362.0 L538.6 356.8 L539.1 357.0 L540.0 358.5 L541.4 369.1 L542.9 377.7 L543.6 381.6 L544.3 385.1 L545.7 386.9 L547.1 383.0 L548.1 378.3 L548.6 378.1 L549.2 376.4 L550.7 376.0 L551.4 376.5 L552.9 378.1 L553.7 379.2 L555.0 380.3 L555.9 381.0 L557.1 384.5 L558.1 384.4 L558.6 388.8 L559.3 389.2 L560.0 388.9 L561.5 394.3 L562.1 393.4 L562.6 395.2 L563.7 394.6 L564.3 395.9 L564.9 395.8 L566.4 395.0 L567.1 394.0 L568.6 392.2 L569.3 395.8 L570.0 396.2 L570.5 397.5 L571.4 402.1 L572.7 404.1 L573.6 406.2 L574.9 408.6 L575.7 409.3 L577.2 406.5 L577.9 406.2 L579.4 401.4 L580.0 400.5 L580.5 398.5 L581.4 397.8 L582.9 400.8 L584.3 407.2 L585.0 411.8 L585.7 412.0 L587.1 417.4 L588.4 414.1 L589.3 413.7 L590.6 414.5 L591.4 414.3 L592.9 420.3 L594.3 428.6 L595.1 433.9 L595.7 434.0 L596.2 433.7 L597.3 432.8 L597.9 431.8 L598.5 436.5 L599.3 437.3 L600.7 445.2 L602.1 458.4 L602.9 462.7 L603.6 468.3 L604.1 465.7 L605.0 464.3 L606.4 456.0 L607.4 458.4 L607.9 461.6 L608.5 469.4 L609.3 469.9 L610.7 466.0 L612.1 457.6 L613.0 456.0 L613.6 451.9 L614.1 451.4 L615.0 453.6 L616.4 448.7 L617.9 442.9 L618.6 439.7 L619.3 435.5 L620.7 441.9 L622.1 445.7 L623.1 442.7 L623.6 437.3 L624.2 433.3 L625.0 429.1 L626.5 427.1 L627.1 426.6 L627.6 428.2 L628.6 432.4 L630.0 443.2 L630.9 448.3 L631.4 454.1 L632.1 454.5 L632.9 461.0 L634.3 466.9 L635.0 469.4 L636.4 470.1 L637.7 461.9 L638.6 462.1 L639.9 458.5 L640.7 459.2 L642.1 458.6 L642.9 456.5 L644.3 452.5 L645.5 454.9 L646.4 454.1 L647.7 454.6 L648.6 456.2 L650.0 453.5 L650.7 451.9 L652.2 452.5 L652.9 455.8 L654.5 461.8 L655.0 462.5 L655.6 464.2 L657.1 466.1 L657.8 468.1 L659.3 467.6 L660.1 468.6 L660.7 470.8 L661.2 471.4 L662.3 473.9 L662.9 476.9 L663.4 475.6 L664.5 478.8 L665.0 481.6 L665.7 483.2 L667.1 475.7 L667.9 476.2 L668.6 469.7 L670.0 463.3 L671.4 467.3 L672.4 468.4 L673.6 472.6 L674.6 472.9 L675.7 471.4 L676.9 469.1 L677.4 464.8 L678.0 469.6 L679.3 470.1 L680.2 470.1 L681.4 475.3 L682.9 481.7 L683.6 483.2 L685.0 485.8 L685.8 487.1 L686.4 488.3 L686.9 487.9 L687.9 492.7 L689.3 489.6 L690.3 489.9 L691.4 489.4 L692.5 493.2 L693.6 491.8 L695.0 485.1 L695.9 485.9 L696.4 486.7 L697.0 487.3 L697.9 492.7 L699.3 492.2 L700.7 489.1 L701.5 484.6 L702.1 482.9 L702.6 482.0 L703.7 480.9 L704.3 479.2 L704.9 470.8 L705.7 468.8 L707.1 461.1 L708.6 452.5 L709.3 450.0 L710.0 448.9 L710.5 448.9 L711.4 442.1 L712.9 434.3 L713.8 434.2 L714.3 435.7 L714.9 437.5 L716.4 438.7 L717.2 436.5 L718.6 434.4 L719.4 436.3 L720.7 436.3 L721.7 437.4 L722.9 440.9 L724.3 442.9 L725.0 441.6 L725.7 433.5 L727.1 438.1 L728.6 445.5 L729.5 448.7 L730.7 448.3 L731.7 451.2 L732.9 451.8 L734.3 455.7 L735.1 452.2 L735.7 451.8 L736.2 453.4 L737.1 457.5 L738.6 462.0 L740.0 463.5 L740.7 464.8 L741.4 460.2 L742.9 449.9 L744.3 435.9 L745.2 434.0 L745.7 426.7 L746.3 424.6 L747.1 423.2 L748.5 422.3 L749.3 419.8 L750.0 422.5 L750.8 423.8 L751.4 427.7 L751.9 428.8 L752.9 425.5 L754.3 419.8 L755.7 411.5 L756.4 412.3 L757.1 409.4 L758.6 410.5 L760.0 407.9 L760.9 412.6 L761.4 413.5 L762.0 417.3 L762.9 417.2 L764.2 420.2 L765.0 421.4 L766.5 421.2 L767.1 424.4 L767.6 425.3 L768.7 426.5 L769.3 426.7 L769.8 425.5 L770.9 420.3 L771.4 418.0 L772.1 417.1 L772.9 411.1 L774.3 404.9 L775.7 399.2 L776.5 394.9 L777.1 393.9 L777.7 393.4 L778.8 390.0 L779.3 389.1 L779.9 390.7 L780.7 392.7 L782.1 396.8 L782.9 397.3 L784.3 399.6 L785.7 403.8 L786.6 405.4 L787.9 409.9 L788.9 410.8 L790.0 402.4 L791.4 396.2 L792.2 393.4 L793.6 391.1 L794.5 388.9 L795.0 390.1 L795.6 391.0 L797.1 385.7 L797.9 397.5 L799.3 404.0 L800.1 407.6 L800.7 406.9 L801.2 404.7 L802.3 404.3 L802.9 405.7 L803.4 405.5 L804.5 404.7 L805.0 404.2 L805.7 401.5 L806.4 398.3 L807.9 391.1 L809.3 396.1 L810.1 400.3 L810.7 399.5 L811.3 400.7 L812.1 400.0 L813.6 394.9 L815.0 391.0 L815.7 390.3 L816.4 386.2 L816.9 383.1 L817.9 379.4 L818.6 369.3" stroke="#95b3d7" stroke-width="4.2"/>
<path class="ser" d="M74.3 303.6 L75.7 293.2 L76.9 286.7 L77.7 287.6 L78.6 285.9 L79.9 285.7 L80.7 285.9 L82.1 279.3 L83.6 268.5 L84.4 266.8 L85.0 263.7 L85.5 256.0 L86.0 252.9 L86.6 245.5 L87.1 244.8 L87.7 242.7 L88.6 242.6 L90.0 240.0 L91.1 240.8 L92.1 239.1 L93.6 235.0 L94.5 235.4 L95.0 237.7 L95.6 236.7 L96.4 242.3 L97.9 240.0 L98.9 239.5 L100.0 240.2 L101.4 235.2 L102.3 234.6 L103.1 234.7 L104.6 241.2 L105.7 244.6 L106.4 243.5 L107.9 242.4 L108.9 245.7 L110.1 247.2 L110.7 252.6 L111.3 252.0 L112.1 255.7 L113.6 257.5 L115.0 261.5 L115.7 261.0 L116.4 260.4 L116.9 258.6 L117.9 254.2 L119.3 252.8 L120.2 252.1 L120.7 256.9 L121.3 258.2 L122.1 261.0 L123.6 264.0 L125.0 265.5 L125.8 269.4 L126.4 268.6 L126.9 265.4 L127.9 260.0 L129.3 251.3 L130.7 242.8 L131.4 241.7 L132.9 239.2 L133.7 237.6 L135.0 238.2 L135.9 239.7 L137.1 239.8 L138.1 240.8 L138.6 243.6 L139.3 245.1 L140.3 243.3 L141.4 247.8 L142.9 248.9 L143.7 248.6 L144.3 243.4 L144.9 242.6 L146.4 236.8 L147.1 234.6 L147.9 228.8 L149.3 228.0 L150.0 226.2 L150.5 224.5 L151.6 224.1 L152.1 225.1 L152.7 222.5 L153.8 219.3 L154.3 217.4 L154.9 213.7 L155.7 207.2 L157.1 199.0 L158.3 199.4 L159.3 195.8 L160.5 194.5 L161.4 193.5 L162.6 199.2 L163.6 208.2 L165.0 211.5 L165.7 213.5 L167.3 216.0 L167.9 215.4 L168.4 213.8 L169.5 217.4 L170.0 219.7 L170.6 220.6 L171.4 225.1 L172.9 219.7 L174.0 217.9 L175.0 213.9 L176.2 214.8 L176.9 213.4 L177.9 220.1 L178.5 223.2 L179.3 226.6 L180.7 228.9 L181.4 228.8 L182.9 230.7 L183.6 230.4 L184.1 229.3 L185.0 224.0 L186.4 216.1 L187.4 214.2 L187.9 213.7 L188.5 215.4 L189.3 214.8 L190.0 222.1 L190.8 226.2 L191.4 228.4 L191.9 229.2 L193.0 231.2 L193.6 232.3 L194.1 232.6 L195.7 236.3 L196.4 238.1 L197.9 232.0 L198.6 229.0 L200.0 228.3 L200.9 229.8 L202.1 232.8 L203.1 229.2 L204.3 226.5 L205.3 221.8 L206.4 219.5 L207.9 213.2 L208.7 215.2 L209.9 215.1 L210.7 217.6 L212.1 208.1 L213.6 194.7 L214.3 190.9 L215.0 179.3 L216.0 170.2 L216.5 174.4 L217.1 176.3 L217.7 179.1 L218.6 183.1 L220.0 184.3 L221.4 178.1 L222.1 172.6 L222.6 172.2 L223.6 182.1 L224.6 192.0 L225.7 198.7 L226.6 199.5 L227.1 200.9 L227.7 196.9 L228.6 197.8 L229.3 207.6 L230.0 202.6 L230.7 197.4 L232.1 190.4 L233.6 194.5 L234.3 201.0 L235.7 192.2 L236.9 206.5 L237.9 192.6 L238.3 170.4 L239.3 187.1 L240.3 207.0 L241.4 216.7 L242.3 220.7 L242.9 224.4 L243.4 223.3 L244.6 213.9 L245.7 226.0 L247.1 238.1 L247.9 236.9 L249.3 234.9 L250.1 229.8 L250.7 224.8 L251.3 216.0 L252.1 200.2 L253.6 209.6 L255.0 215.8 L256.0 223.4 L257.1 208.8 L258.0 214.8 L258.6 217.5 L259.1 217.2 L260.0 226.6 L261.4 236.2 L262.9 231.6 L263.6 232.1 L264.3 230.9 L265.7 236.4 L266.9 239.3 L267.9 240.6 L269.2 239.6 L270.0 238.1 L271.4 226.4 L272.9 214.3 L274.0 208.3 L274.8 217.5 L275.4 217.9 L275.9 218.6 L277.1 224.5 L278.1 224.2 L279.3 227.7 L280.7 232.5 L281.7 242.8 L282.6 244.6 L283.7 246.6 L284.3 248.1 L284.9 247.1 L285.7 253.2 L287.1 252.3 L287.9 251.7 L289.3 252.0 L290.0 255.9 L290.5 257.5 L291.4 258.0 L292.9 253.5 L293.8 250.3 L294.3 248.6 L294.9 248.6 L296.4 250.3 L297.2 251.6 L298.6 254.2 L299.4 256.5 L300.0 256.6 L300.5 258.2 L302.1 259.7 L302.8 260.8 L304.3 262.3 L305.0 261.9 L305.7 257.3 L307.1 253.0 L308.4 252.0 L309.3 253.1 L310.7 251.5 L311.7 251.3 L312.9 254.4 L314.0 255.4 L315.0 256.9 L316.4 261.6 L317.3 263.1 L318.6 264.6 L319.6 263.5 L320.7 265.4 L322.1 261.2 L322.9 261.7 L324.3 261.2 L325.2 260.0 L325.7 257.6 L326.3 248.4 L326.9 242.5 L327.4 257.7 L327.9 267.9 L328.5 260.0 L329.3 252.1 L330.3 240.2 L330.8 240.6 L331.4 248.6 L331.9 252.9 L332.9 260.5 L334.1 259.0 L335.0 258.7 L336.4 259.5 L337.1 256.9 L338.6 257.4 L339.3 257.3 L340.0 267.2 L340.9 275.3 L341.4 274.7 L342.0 272.1 L343.1 271.3 L343.6 272.8 L344.2 277.2 L345.0 278.6 L346.4 273.8 L347.9 266.3 L348.7 264.8 L349.3 269.6 L349.8 274.1 L350.7 280.9 L352.1 278.7 L352.9 276.9 L354.3 268.8 L355.7 256.6 L356.5 246.3 L357.1 244.1 L357.7 238.4 L358.6 233.9 L359.9 222.7 L361.0 216.2 L362.1 210.1 L363.0 205.5 L364.4 201.4 L365.0 198.6 L365.5 203.9 L367.0 208.3 L367.7 206.6 L369.0 202.3 L370.0 207.3 L371.0 210.5 L372.2 207.4 L373.0 199.9 L374.4 193.1 L375.6 202.6 L376.4 206.0 L377.8 204.4 L378.4 202.6 L378.9 203.5 L380.1 204.3 L381.1 204.6 L382.3 205.8 L383.1 205.7 L384.5 211.8 L385.7 213.2 L386.8 206.0 L387.5 202.6 L389.1 211.0 L390.1 208.2 L391.1 200.3 L392.4 192.6 L393.1 190.7 L394.1 183.2 L394.6 167.3 L395.1 150.3 L396.1 129.8 L396.9 113.5 L397.7 98.4 L399.1 102.6 L400.1 149.7 L401.1 172.7 L402.1 187.7 L403.1 176.2 L403.6 170.6 L404.5 156.7 L406.1 141.1 L406.9 139.4 L407.7 134.9 L409.1 143.3 L410.5 127.3 L411.7 116.2 L412.5 100.4 L413.7 79.9 L414.8 62.2 L416.1 42.2 L417.0 43.6 L418.1 51.9 L419.1 60.0 L420.4 66.3 L421.5 67.6 L422.1 68.7 L422.6 71.8 L423.7 83.0 L425.1 93.5 L426.0 98.3 L427.5 114.4 L428.2 117.8 L429.1 126.4 L430.5 139.4 L431.1 139.8 L431.6 142.7 L432.5 149.3 L433.1 176.7 L433.7 194.7 L435.1 189.6 L436.1 180.2 L437.1 174.5 L438.1 159.2 L439.7 142.9 L440.5 138.0 L441.1 132.6 L441.7 141.1 L443.1 146.5 L443.9 133.9 L444.5 126.0 L445.0 129.9 L446.1 130.6 L447.3 128.4 L448.1 124.0 L449.5 119.1 L450.1 118.4 L450.6 116.8 L452.1 114.3 L452.9 112.6 L454.1 102.8 L455.1 98.0 L456.5 95.6 L457.3 98.7 L458.5 104.4 L459.6 113.7 L460.1 116.1 L460.7 119.8 L461.5 126.7 L462.5 146.2 L463.1 176.5 L464.1 172.1 L465.1 172.1 L466.3 170.8 L467.1 169.9 L468.5 186.8 L470.1 201.1 L470.8 197.5 L471.7 189.4 L473.1 184.7 L474.5 194.0 L475.3 201.3 L476.1 206.7 L477.7 222.8 L478.6 220.3 L479.7 218.1 L481.2 230.7 L482.0 241.1 L482.6 246.8 L483.1 247.6 L484.2 247.5 L485.7 246.8 L486.9 236.5 L487.9 226.4 L488.7 221.0 L489.3 219.4 L489.8 212.8 L490.7 201.6 L492.1 214.8 L493.6 215.4 L494.3 217.3 L495.0 219.5 L496.0 201.5 L496.9 219.4 L497.9 230.4 L498.8 239.9 L499.3 243.3 L500.3 258.7 L501.1 273.3 L502.1 269.3 L502.6 268.9 L503.3 268.9 L504.0 267.0 L505.0 251.2 L505.5 248.8 L506.4 246.8 L507.9 237.0 L508.6 223.6 L509.3 214.9 L510.0 220.1 L510.7 223.3 L512.1 226.5 L513.6 229.8 L514.5 235.3 L515.0 233.7 L516.0 240.4 L517.1 246.7 L517.8 245.1 L518.6 238.8 L520.0 229.7 L521.4 222.7 L522.3 222.2 L522.9 218.5 L523.4 221.1 L524.0 227.9 L524.5 226.9 L525.0 217.3 L526.0 228.2 L527.1 240.0 L527.9 242.5 L528.6 246.8 L530.1 250.0 L530.7 250.2 L531.3 249.5 L532.4 250.7 L532.9 252.8 L533.5 253.0 L535.0 255.2 L535.7 249.2 L536.4 246.6 L536.9 244.8 L537.9 251.8 L539.0 244.3 L540.0 255.0 L540.7 266.4 L541.3 268.8 L542.9 269.4 L543.6 272.3 L544.3 274.5 L545.0 277.5 L545.8 282.9 L546.4 287.9 L546.9 292.0 L547.9 294.4 L549.3 302.4 L550.3 303.4 L551.4 305.8 L552.5 306.4 L553.1 307.9 L553.7 311.2 L554.3 319.2 L554.8 318.8 L555.4 322.8 L555.9 324.9 L557.1 329.1 L558.1 331.7 L559.3 335.1 L560.7 341.4 L561.7 345.1 L562.9 329.4 L563.6 337.2 L564.3 349.6 L564.9 351.1 L565.7 355.3 L567.1 358.5 L568.6 359.7 L569.3 354.9 L570.0 351.7 L570.5 351.5 L571.4 349.9 L572.9 357.4 L573.8 357.7 L574.3 354.0 L575.0 360.1 L576.0 371.9 L577.1 378.4 L578.6 385.7 L579.7 398.6 L580.7 393.1 L581.7 380.6 L582.9 386.1 L584.3 391.4 L585.0 384.9 L585.7 384.6 L586.9 376.9 L587.9 386.1 L588.4 386.1 L589.3 389.7 L590.7 394.4 L591.7 403.8 L592.9 412.7 L593.6 411.5 L595.0 420.1 L596.2 423.2 L597.1 425.1 L598.5 429.3 L599.3 431.4 L600.7 438.7 L602.1 444.1 L602.9 447.4 L603.6 448.1 L604.1 447.4 L605.0 445.5 L606.4 453.3 L607.4 456.6 L607.9 463.7 L608.5 467.7 L609.3 473.5 L610.7 480.5 L612.1 473.5 L613.0 471.1 L613.6 469.8 L614.1 464.3 L615.0 461.4 L616.4 456.1 L617.9 445.5 L618.6 437.3 L619.3 430.3 L620.7 422.5 L622.1 407.0 L623.1 401.3 L623.6 398.6 L624.2 395.0 L625.0 395.0 L626.4 403.2 L627.9 398.9 L628.6 409.8 L630.0 421.1 L630.9 424.6 L632.1 430.9 L633.2 431.7 L634.3 431.3 L635.4 424.6 L636.4 425.6 L637.9 427.5 L638.8 433.2 L640.0 435.1 L641.0 437.7 L642.1 439.7 L643.3 439.8 L644.3 447.0 L645.7 453.8 L646.6 453.2 L647.1 447.8 L648.1 435.2 L649.3 445.1 L650.0 453.0 L650.7 457.3 L651.4 462.1 L652.6 446.1 L653.3 448.1 L654.0 452.2 L654.5 452.4 L655.7 445.2 L657.1 450.3 L657.8 451.1 L659.3 452.5 L660.1 452.5 L661.4 450.6 L662.3 448.2 L663.6 446.5 L664.5 450.5 L665.0 452.2 L665.7 454.1 L666.4 456.3 L667.9 454.9 L669.0 457.0 L669.9 459.1 L670.7 476.9 L671.3 475.4 L672.4 469.8 L672.9 469.7 L673.5 467.6 L674.3 462.5 L675.7 455.4 L676.9 455.9 L677.9 456.4 L679.1 464.0 L680.0 466.2 L681.3 468.2 L682.1 467.1 L683.6 458.3 L685.0 463.2 L685.8 465.7 L686.4 472.4 L686.9 474.8 L688.1 477.9 L688.6 477.3 L689.2 476.8 L690.7 482.0 L691.4 483.4 L692.5 484.4 L693.1 484.9 L693.7 482.8 L694.8 482.9 L695.7 482.7 L697.0 477.1 L697.9 471.9 L699.3 473.8 L700.0 475.9 L701.4 465.9 L702.9 453.2 L703.7 448.4 L704.3 445.1 L704.9 442.0 L705.7 435.8 L707.1 420.2 L708.6 413.1 L709.3 414.6 L710.0 414.1 L710.5 415.9 L711.4 421.9 L712.9 414.5 L714.0 430.0 L714.9 430.3 L715.7 425.8 L717.1 414.8 L718.6 401.7 L719.4 398.7 L720.7 397.4 L721.7 398.2 L722.9 397.2 L723.9 404.0 L725.0 407.0 L726.4 386.8 L727.4 374.2 L728.6 386.1 L729.7 395.4 L730.6 395.1 L732.1 397.3 L732.9 393.9 L733.6 394.6 L735.0 399.2 L736.4 403.2 L737.3 399.5 L737.9 400.5 L738.5 405.7 L739.3 408.8 L740.7 411.0 L742.1 414.1 L743.1 423.0 L744.3 406.7 L745.4 391.8 L746.4 403.0 L747.4 406.2 L747.9 410.3 L748.5 408.3 L749.3 407.2 L750.7 414.6 L751.9 415.1 L752.9 414.3 L754.3 409.5 L755.7 418.5 L756.4 419.6 L757.1 412.5 L758.6 408.0 L760.0 403.1 L760.7 411.0 L762.1 420.6 L763.1 429.0 L763.6 431.8 L764.2 432.6 L765.7 429.5 L766.5 429.7 L767.1 432.1 L767.6 435.1 L768.6 437.5 L770.0 443.1 L770.9 433.7 L771.4 428.5 L772.1 425.2 L772.9 420.8 L774.3 418.1 L775.4 418.2 L776.4 419.1 L777.7 418.2 L778.6 415.3 L779.9 413.8 L780.7 413.3 L782.1 406.2 L783.1 412.0 L784.3 418.8 L785.7 423.0 L786.6 426.3 L787.1 427.1 L787.7 426.6 L788.6 433.4 L790.0 434.1 L790.7 434.4 L792.1 435.8 L793.6 428.8 L794.5 417.1 L795.0 406.5 L795.7 392.1 L797.1 380.4 L797.9 365.5 L798.6 343.3 L799.3 329.7 L799.7 341.1 L800.3 351.4 L800.7 359.1 L801.4 365.2 L802.3 363.0 L802.9 361.7 L803.4 362.6 L804.3 369.8 L805.7 371.8 L806.9 362.5 L807.9 349.3 L809.3 338.5 L810.1 331.7 L810.7 328.7 L811.3 324.7 L811.9 322.1 L812.6 332.0 L813.6 344.0 L814.6 351.7 L815.7 352.6 L816.4 340.6 L817.1 325.0 L817.9 309.3" stroke="#7030a0" stroke-width="2.1" stroke-dasharray="5 3.1" stroke-linecap="butt"/>
</g>
<text x="94.2" y="48.9" font-size="26.2px" font-weight="bold" textLength="772" lengthAdjust="spacingAndGlyphs">Rentowności 10-letnich obligacji skarbowych wybranych krajów</text>
<text x="94.2" y="83.6" font-size="26.2px" font-weight="bold" textLength="226" lengthAdjust="spacingAndGlyphs">na rynku wtórnym</text>
<text x="101.8" y="125.4" font-size="20.6px" stroke="#000" stroke-width="0.3" textLength="162" lengthAdjust="spacingAndGlyphs">Dane tygodniowe</text>
<rect x="777" y="69" width="164" height="51" fill="#fdeada"/>
<text x="799" y="105.8" font-family="'Liberation Serif',serif" font-weight="bold" font-size="36.5px">Q</text>
<text x="828.5" y="104.6" font-style="italic" font-size="21px" stroke="#000" stroke-width="0.3" textLength="60.5" lengthAdjust="spacingAndGlyphs">NEWS</text>
<text x="889" y="104.6" font-size="21px" stroke="#000" stroke-width="0.3" textLength="30" lengthAdjust="spacingAndGlyphs">.PL</text>
<text x="832.2" y="290.2" font-size="20.8px" font-weight="normal" fill="#7030a0" stroke="#7030a0" stroke-width="0.3" textLength="69.8" lengthAdjust="spacingAndGlyphs">Włochy</text>
<text x="838.6" y="324.2" font-size="20.8px" font-weight="bold" fill="#ff0000" stroke="#ff0000" stroke-width="0.3" textLength="44.3" lengthAdjust="spacingAndGlyphs">USA</text>
<text x="834.2" y="373" font-size="20.8px" font-weight="normal" fill="#95b3d7" stroke="#95b3d7" stroke-width="0.3" textLength="67.6" lengthAdjust="spacingAndGlyphs">Kanada</text>
<text x="838.4" y="443.7" font-size="20.8px" font-weight="normal" fill="#31859c" stroke="#31859c" stroke-width="0.3" textLength="26.6" lengthAdjust="spacingAndGlyphs">UK</text>
<text x="832.2" y="505.7" font-size="20.8px" font-weight="normal" fill="#e46c0a" stroke="#e46c0a" stroke-width="0.3" textLength="67.6" lengthAdjust="spacingAndGlyphs">Francja</text>
<text x="833.7" y="536" font-size="20.8px" font-weight="normal" fill="#00b0f0" stroke="#00b0f0" stroke-width="0.3" textLength="69" lengthAdjust="spacingAndGlyphs">Niemcy</text>
<text x="832.8" y="566.5" font-size="20.8px" font-weight="normal" fill="#7f7f7f" stroke="#7f7f7f" stroke-width="0.3" textLength="69" lengthAdjust="spacingAndGlyphs">Japonia</text>
</svg></body></html>
